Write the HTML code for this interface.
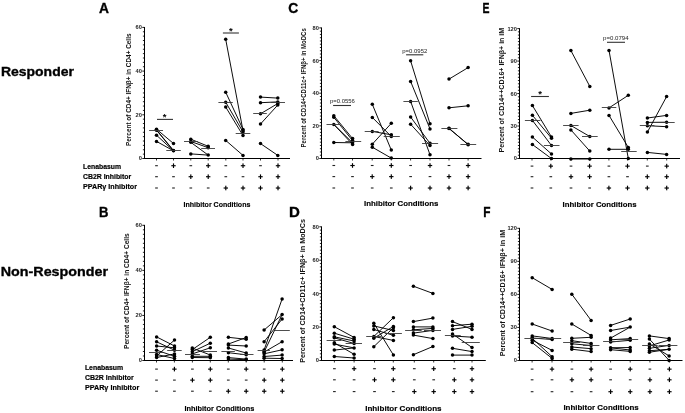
<!DOCTYPE html>
<html><head><meta charset="utf-8"><style>html,body{margin:0;padding:0;background:#fff;width:685px;height:413px;overflow:hidden;}body{position:relative;font-family:"Liberation Sans", sans-serif;}</style></head><body>
<svg width="685" height="413" viewBox="0 0 685 413" style="position:absolute;left:0;top:0;filter:grayscale(1)" font-family='&quot;Liberation Sans&quot;, sans-serif'>
<rect width="685" height="413" fill="#fff"/>
<text transform="translate(98.9,12.8) scale(0.92,1)" font-size="15" font-weight="bold" stroke="#000" stroke-width="0.35">A</text>
<text transform="translate(99,216.7) scale(0.87,1)" font-size="15" font-weight="bold" stroke="#000" stroke-width="0.35">B</text>
<text transform="translate(288.2,12.6) scale(0.92,1)" font-size="15" font-weight="bold" stroke="#000" stroke-width="0.35">C</text>
<text transform="translate(288.9,216.7) scale(1,1)" font-size="15" font-weight="bold" stroke="#000" stroke-width="0.35">D</text>
<text transform="translate(482.4,12.7) scale(0.7,1)" font-size="15" font-weight="bold" stroke="#000" stroke-width="0.35">E</text>
<text transform="translate(483.2,216.7) scale(0.79,1)" font-size="15" font-weight="bold" stroke="#000" stroke-width="0.35">F</text>
<text x="0.9" y="75.8" font-size="13.6" font-weight="bold" text-anchor="start" fill="#000" textLength="73" lengthAdjust="spacingAndGlyphs" stroke="#000" stroke-width="0.35">Responder</text>
<text x="0.8" y="276.4" font-size="13.6" font-weight="bold" text-anchor="start" fill="#000" textLength="107.2" lengthAdjust="spacingAndGlyphs" stroke="#000" stroke-width="0.35">Non-Responder</text>
<text x="83" y="169.3" font-size="8" font-weight="bold" text-anchor="start" fill="#000" textLength="38" lengthAdjust="spacingAndGlyphs" stroke="#000" stroke-width="0.2">Lenabasum</text>
<text x="83" y="179.1" font-size="8" font-weight="bold" text-anchor="start" fill="#000" textLength="48.2" lengthAdjust="spacingAndGlyphs" stroke="#000" stroke-width="0.2">CB2R Inhibitor</text>
<text x="83" y="189" font-size="8" font-weight="bold" text-anchor="start" fill="#000" textLength="54" lengthAdjust="spacingAndGlyphs" stroke="#000" stroke-width="0.2">PPARγ Inhibitor</text>
<text x="84.9" y="370.3" font-size="8" font-weight="bold" text-anchor="start" fill="#000" textLength="38.3" lengthAdjust="spacingAndGlyphs" stroke="#000" stroke-width="0.2">Lenabasum</text>
<text x="84.9" y="380.1" font-size="8" font-weight="bold" text-anchor="start" fill="#000" textLength="48.8" lengthAdjust="spacingAndGlyphs" stroke="#000" stroke-width="0.2">CB2R Inhibitor</text>
<text x="84.9" y="390" font-size="8" font-weight="bold" text-anchor="start" fill="#000" textLength="54.3" lengthAdjust="spacingAndGlyphs" stroke="#000" stroke-width="0.2">PPARγ Inhibitor</text>
<line x1="144.5" y1="27" x2="144.5" y2="159" stroke="#000" stroke-width="1"/>
<line x1="142.3" y1="158.5" x2="144.5" y2="158.5" stroke="#000" stroke-width="0.9"/>
<text x="141.9" y="160.45" font-size="5.7" font-weight="bold" text-anchor="end" fill="#222">0</text>
<line x1="142.3" y1="114.8" x2="144.5" y2="114.8" stroke="#000" stroke-width="0.9"/>
<text x="141.9" y="116.75" font-size="5.7" font-weight="bold" text-anchor="end" fill="#222">20</text>
<line x1="142.3" y1="71.1" x2="144.5" y2="71.1" stroke="#000" stroke-width="0.9"/>
<text x="141.9" y="73.05" font-size="5.7" font-weight="bold" text-anchor="end" fill="#222">40</text>
<line x1="142.3" y1="27.4" x2="144.5" y2="27.4" stroke="#000" stroke-width="0.9"/>
<text x="141.9" y="29.35" font-size="5.7" font-weight="bold" text-anchor="end" fill="#222">60</text>
<line x1="142.9" y1="154.13" x2="144.5" y2="154.13" stroke="#000" stroke-width="0.85"/>
<line x1="142.9" y1="149.76" x2="144.5" y2="149.76" stroke="#000" stroke-width="0.85"/>
<line x1="142.9" y1="145.39" x2="144.5" y2="145.39" stroke="#000" stroke-width="0.85"/>
<line x1="142.9" y1="141.02" x2="144.5" y2="141.02" stroke="#000" stroke-width="0.85"/>
<line x1="142.9" y1="136.65" x2="144.5" y2="136.65" stroke="#000" stroke-width="0.85"/>
<line x1="142.9" y1="132.28" x2="144.5" y2="132.28" stroke="#000" stroke-width="0.85"/>
<line x1="142.9" y1="127.91" x2="144.5" y2="127.91" stroke="#000" stroke-width="0.85"/>
<line x1="142.9" y1="123.54" x2="144.5" y2="123.54" stroke="#000" stroke-width="0.85"/>
<line x1="142.9" y1="119.17" x2="144.5" y2="119.17" stroke="#000" stroke-width="0.85"/>
<line x1="142.9" y1="110.43" x2="144.5" y2="110.43" stroke="#000" stroke-width="0.85"/>
<line x1="142.9" y1="106.06" x2="144.5" y2="106.06" stroke="#000" stroke-width="0.85"/>
<line x1="142.9" y1="101.69" x2="144.5" y2="101.69" stroke="#000" stroke-width="0.85"/>
<line x1="142.9" y1="97.32" x2="144.5" y2="97.32" stroke="#000" stroke-width="0.85"/>
<line x1="142.9" y1="92.95" x2="144.5" y2="92.95" stroke="#000" stroke-width="0.85"/>
<line x1="142.9" y1="88.58" x2="144.5" y2="88.58" stroke="#000" stroke-width="0.85"/>
<line x1="142.9" y1="84.21" x2="144.5" y2="84.21" stroke="#000" stroke-width="0.85"/>
<line x1="142.9" y1="79.84" x2="144.5" y2="79.84" stroke="#000" stroke-width="0.85"/>
<line x1="142.9" y1="75.47" x2="144.5" y2="75.47" stroke="#000" stroke-width="0.85"/>
<line x1="142.9" y1="66.73" x2="144.5" y2="66.73" stroke="#000" stroke-width="0.85"/>
<line x1="142.9" y1="62.36" x2="144.5" y2="62.36" stroke="#000" stroke-width="0.85"/>
<line x1="142.9" y1="57.99" x2="144.5" y2="57.99" stroke="#000" stroke-width="0.85"/>
<line x1="142.9" y1="53.62" x2="144.5" y2="53.62" stroke="#000" stroke-width="0.85"/>
<line x1="142.9" y1="49.25" x2="144.5" y2="49.25" stroke="#000" stroke-width="0.85"/>
<line x1="142.9" y1="44.88" x2="144.5" y2="44.88" stroke="#000" stroke-width="0.85"/>
<line x1="142.9" y1="40.51" x2="144.5" y2="40.51" stroke="#000" stroke-width="0.85"/>
<line x1="142.9" y1="36.14" x2="144.5" y2="36.14" stroke="#000" stroke-width="0.85"/>
<line x1="142.9" y1="31.77" x2="144.5" y2="31.77" stroke="#000" stroke-width="0.85"/>
<line x1="144" y1="158.5" x2="290" y2="158.5" stroke="#000" stroke-width="1"/>
<line x1="156.5" y1="158.5" x2="156.5" y2="160.5" stroke="#000" stroke-width="0.8"/>
<line x1="173.5" y1="158.5" x2="173.5" y2="160.5" stroke="#000" stroke-width="0.8"/>
<line x1="190.8" y1="158.5" x2="190.8" y2="160.5" stroke="#000" stroke-width="0.8"/>
<line x1="208.2" y1="158.5" x2="208.2" y2="160.5" stroke="#000" stroke-width="0.8"/>
<line x1="225.8" y1="158.5" x2="225.8" y2="160.5" stroke="#000" stroke-width="0.8"/>
<line x1="243" y1="158.5" x2="243" y2="160.5" stroke="#000" stroke-width="0.8"/>
<line x1="260.5" y1="158.5" x2="260.5" y2="160.5" stroke="#000" stroke-width="0.8"/>
<line x1="278" y1="158.5" x2="278" y2="160.5" stroke="#000" stroke-width="0.8"/>
<text transform="translate(130.7,89.75) rotate(-90)" x="0" y="0" font-size="7.6" font-weight="bold" text-anchor="middle" fill="#111" textLength="112.5" lengthAdjust="spacingAndGlyphs">Percent of CD4+ IFNβ+ in CD4+ Cells</text>
<rect x="155.15" y="165.15" width="2.7" height="1.1" fill="#222"/>
<rect x="171.3" y="165.15" width="4.4" height="1.15" fill="#000"/>
<rect x="172.93" y="163.4" width="1.15" height="4.6" fill="#000"/>
<rect x="189.45" y="165.15" width="2.7" height="1.1" fill="#222"/>
<rect x="206" y="165.15" width="4.4" height="1.15" fill="#000"/>
<rect x="207.63" y="163.4" width="1.15" height="4.6" fill="#000"/>
<rect x="224.45" y="165.15" width="2.7" height="1.1" fill="#222"/>
<rect x="240.8" y="165.15" width="4.4" height="1.15" fill="#000"/>
<rect x="242.43" y="163.4" width="1.15" height="4.6" fill="#000"/>
<rect x="259.15" y="165.15" width="2.7" height="1.1" fill="#222"/>
<rect x="275.8" y="165.15" width="4.4" height="1.15" fill="#000"/>
<rect x="277.43" y="163.4" width="1.15" height="4.6" fill="#000"/>
<rect x="155.15" y="176.15" width="2.7" height="1.1" fill="#222"/>
<rect x="172.15" y="176.15" width="2.7" height="1.1" fill="#222"/>
<rect x="188.6" y="176.15" width="4.4" height="1.15" fill="#000"/>
<rect x="190.23" y="174.4" width="1.15" height="4.6" fill="#000"/>
<rect x="206" y="176.15" width="4.4" height="1.15" fill="#000"/>
<rect x="207.63" y="174.4" width="1.15" height="4.6" fill="#000"/>
<rect x="224.45" y="176.15" width="2.7" height="1.1" fill="#222"/>
<rect x="241.65" y="176.15" width="2.7" height="1.1" fill="#222"/>
<rect x="258.3" y="176.15" width="4.4" height="1.15" fill="#000"/>
<rect x="259.93" y="174.4" width="1.15" height="4.6" fill="#000"/>
<rect x="275.8" y="176.15" width="4.4" height="1.15" fill="#000"/>
<rect x="277.43" y="174.4" width="1.15" height="4.6" fill="#000"/>
<rect x="155.15" y="187.45" width="2.7" height="1.1" fill="#222"/>
<rect x="172.15" y="187.45" width="2.7" height="1.1" fill="#222"/>
<rect x="189.45" y="187.45" width="2.7" height="1.1" fill="#222"/>
<rect x="206.85" y="187.45" width="2.7" height="1.1" fill="#222"/>
<rect x="223.6" y="187.45" width="4.4" height="1.15" fill="#000"/>
<rect x="225.23" y="185.7" width="1.15" height="4.6" fill="#000"/>
<rect x="240.8" y="187.45" width="4.4" height="1.15" fill="#000"/>
<rect x="242.43" y="185.7" width="1.15" height="4.6" fill="#000"/>
<rect x="258.3" y="187.45" width="4.4" height="1.15" fill="#000"/>
<rect x="259.93" y="185.7" width="1.15" height="4.6" fill="#000"/>
<rect x="275.8" y="187.45" width="4.4" height="1.15" fill="#000"/>
<rect x="277.43" y="185.7" width="1.15" height="4.6" fill="#000"/>
<text x="183.5" y="206.7" font-size="7.8" font-weight="bold" text-anchor="start" fill="#000" textLength="66.9" lengthAdjust="spacingAndGlyphs" stroke="#000" stroke-width="0.15">Inhibitor Conditions</text>
<line x1="156.5" y1="129.2" x2="173.5" y2="143.5" stroke="#000" stroke-width="0.95"/>
<line x1="156.5" y1="130.2" x2="173.5" y2="150.8" stroke="#000" stroke-width="0.95"/>
<line x1="156.5" y1="135.2" x2="173.5" y2="150.8" stroke="#000" stroke-width="0.95"/>
<line x1="156.5" y1="141.4" x2="173.5" y2="150.8" stroke="#000" stroke-width="0.95"/>
<line x1="156.5" y1="129.8" x2="173.5" y2="150.5" stroke="#000" stroke-width="0.95"/>
<circle cx="156.5" cy="130.2" r="1.75"/>
<circle cx="156.5" cy="129.2" r="1.75"/>
<circle cx="156.5" cy="135.2" r="1.75"/>
<circle cx="173.5" cy="150.5" r="1.75"/>
<circle cx="173.5" cy="143.5" r="1.75"/>
<circle cx="173.5" cy="150.8" r="1.75"/>
<circle cx="156.5" cy="129.8" r="1.75"/>
<circle cx="156.5" cy="141.4" r="1.75"/>
<line x1="149.1" y1="130.5" x2="163" y2="130.5" stroke="#3a3a3a" stroke-width="0.9"/>
<line x1="166.3" y1="150.5" x2="180.8" y2="150.5" stroke="#3a3a3a" stroke-width="0.9"/>
<line x1="190.8" y1="139.2" x2="208.2" y2="146.3" stroke="#000" stroke-width="0.95"/>
<line x1="190.8" y1="141.5" x2="208.2" y2="147.7" stroke="#000" stroke-width="0.95"/>
<line x1="190.8" y1="142.3" x2="208.2" y2="155.1" stroke="#000" stroke-width="0.95"/>
<line x1="190.8" y1="153.9" x2="208.2" y2="155.1" stroke="#000" stroke-width="0.95"/>
<circle cx="208.2" cy="147.7" r="1.75"/>
<circle cx="190.8" cy="139.2" r="1.75"/>
<circle cx="190.8" cy="142.3" r="1.75"/>
<circle cx="190.8" cy="141.5" r="1.75"/>
<circle cx="208.2" cy="146.3" r="1.75"/>
<circle cx="208.2" cy="155.1" r="1.75"/>
<circle cx="190.8" cy="153.9" r="1.75"/>
<line x1="184" y1="141.5" x2="197.9" y2="141.5" stroke="#3a3a3a" stroke-width="0.9"/>
<line x1="201.2" y1="148.5" x2="215" y2="148.5" stroke="#3a3a3a" stroke-width="0.9"/>
<line x1="225.7" y1="39.3" x2="243" y2="130.7" stroke="#000" stroke-width="0.95"/>
<line x1="225.7" y1="92.2" x2="243" y2="129.4" stroke="#000" stroke-width="0.95"/>
<line x1="225.7" y1="102.2" x2="243" y2="132" stroke="#000" stroke-width="0.95"/>
<line x1="225.7" y1="107" x2="243" y2="135.5" stroke="#000" stroke-width="0.95"/>
<line x1="225.7" y1="140.4" x2="243" y2="155.4" stroke="#000" stroke-width="0.95"/>
<circle cx="243" cy="135.5" r="1.75"/>
<circle cx="225.7" cy="107" r="1.75"/>
<circle cx="225.7" cy="102.2" r="1.75"/>
<circle cx="243" cy="130.7" r="1.75"/>
<circle cx="225.7" cy="92.2" r="1.75"/>
<circle cx="243" cy="132" r="1.75"/>
<circle cx="243" cy="155.4" r="1.75"/>
<circle cx="225.7" cy="140.4" r="1.75"/>
<circle cx="225.7" cy="39.3" r="1.75"/>
<circle cx="243" cy="129.4" r="1.75"/>
<line x1="218.4" y1="102.5" x2="232.8" y2="102.5" stroke="#3a3a3a" stroke-width="0.9"/>
<line x1="235.7" y1="133.5" x2="250.3" y2="133.5" stroke="#3a3a3a" stroke-width="0.9"/>
<line x1="260.5" y1="97.1" x2="277.8" y2="98.1" stroke="#000" stroke-width="0.95"/>
<line x1="260.5" y1="102.7" x2="277.8" y2="101.9" stroke="#000" stroke-width="0.95"/>
<line x1="260.5" y1="113.8" x2="277.8" y2="103.5" stroke="#000" stroke-width="0.95"/>
<line x1="260.5" y1="124" x2="277.8" y2="105" stroke="#000" stroke-width="0.95"/>
<line x1="260.5" y1="143.6" x2="277.8" y2="155.4" stroke="#000" stroke-width="0.95"/>
<circle cx="260.5" cy="143.6" r="1.75"/>
<circle cx="260.5" cy="97.1" r="1.75"/>
<circle cx="277.8" cy="105" r="1.75"/>
<circle cx="260.5" cy="102.7" r="1.75"/>
<circle cx="277.8" cy="98.1" r="1.75"/>
<circle cx="277.8" cy="101.9" r="1.75"/>
<circle cx="260.5" cy="113.8" r="1.75"/>
<circle cx="260.5" cy="124" r="1.75"/>
<circle cx="277.8" cy="155.4" r="1.75"/>
<circle cx="277.8" cy="103.5" r="1.75"/>
<line x1="253.2" y1="113.5" x2="266.8" y2="113.5" stroke="#3a3a3a" stroke-width="0.9"/>
<line x1="271" y1="102.5" x2="285" y2="102.5" stroke="#3a3a3a" stroke-width="0.9"/>
<line x1="157" y1="119.4" x2="173" y2="119.4" stroke="#333" stroke-width="1.1"/>
<text x="164.6" y="120.4" font-size="9.5" font-weight="bold" text-anchor="middle" fill="#000">*</text>
<line x1="222.9" y1="33" x2="238.9" y2="33" stroke="#333" stroke-width="1.1"/>
<text x="230.9" y="34" font-size="9.5" font-weight="bold" text-anchor="middle" fill="#000">*</text>
<line x1="144.5" y1="224.9" x2="144.5" y2="361" stroke="#000" stroke-width="1"/>
<line x1="142.3" y1="360.5" x2="144.5" y2="360.5" stroke="#000" stroke-width="0.9"/>
<text x="141.9" y="362.45" font-size="5.7" font-weight="bold" text-anchor="end" fill="#222">0</text>
<line x1="142.3" y1="315.43" x2="144.5" y2="315.43" stroke="#000" stroke-width="0.9"/>
<text x="141.9" y="317.38" font-size="5.7" font-weight="bold" text-anchor="end" fill="#222">20</text>
<line x1="142.3" y1="270.37" x2="144.5" y2="270.37" stroke="#000" stroke-width="0.9"/>
<text x="141.9" y="272.32" font-size="5.7" font-weight="bold" text-anchor="end" fill="#222">40</text>
<line x1="142.3" y1="225.3" x2="144.5" y2="225.3" stroke="#000" stroke-width="0.9"/>
<text x="141.9" y="227.25" font-size="5.7" font-weight="bold" text-anchor="end" fill="#222">60</text>
<line x1="142.9" y1="355.99" x2="144.5" y2="355.99" stroke="#000" stroke-width="0.85"/>
<line x1="142.9" y1="351.49" x2="144.5" y2="351.49" stroke="#000" stroke-width="0.85"/>
<line x1="142.9" y1="346.98" x2="144.5" y2="346.98" stroke="#000" stroke-width="0.85"/>
<line x1="142.9" y1="342.47" x2="144.5" y2="342.47" stroke="#000" stroke-width="0.85"/>
<line x1="142.9" y1="337.97" x2="144.5" y2="337.97" stroke="#000" stroke-width="0.85"/>
<line x1="142.9" y1="333.46" x2="144.5" y2="333.46" stroke="#000" stroke-width="0.85"/>
<line x1="142.9" y1="328.95" x2="144.5" y2="328.95" stroke="#000" stroke-width="0.85"/>
<line x1="142.9" y1="324.45" x2="144.5" y2="324.45" stroke="#000" stroke-width="0.85"/>
<line x1="142.9" y1="319.94" x2="144.5" y2="319.94" stroke="#000" stroke-width="0.85"/>
<line x1="142.9" y1="310.93" x2="144.5" y2="310.93" stroke="#000" stroke-width="0.85"/>
<line x1="142.9" y1="306.42" x2="144.5" y2="306.42" stroke="#000" stroke-width="0.85"/>
<line x1="142.9" y1="301.91" x2="144.5" y2="301.91" stroke="#000" stroke-width="0.85"/>
<line x1="142.9" y1="297.41" x2="144.5" y2="297.41" stroke="#000" stroke-width="0.85"/>
<line x1="142.9" y1="292.9" x2="144.5" y2="292.9" stroke="#000" stroke-width="0.85"/>
<line x1="142.9" y1="288.39" x2="144.5" y2="288.39" stroke="#000" stroke-width="0.85"/>
<line x1="142.9" y1="283.89" x2="144.5" y2="283.89" stroke="#000" stroke-width="0.85"/>
<line x1="142.9" y1="279.38" x2="144.5" y2="279.38" stroke="#000" stroke-width="0.85"/>
<line x1="142.9" y1="274.87" x2="144.5" y2="274.87" stroke="#000" stroke-width="0.85"/>
<line x1="142.9" y1="265.86" x2="144.5" y2="265.86" stroke="#000" stroke-width="0.85"/>
<line x1="142.9" y1="261.35" x2="144.5" y2="261.35" stroke="#000" stroke-width="0.85"/>
<line x1="142.9" y1="256.85" x2="144.5" y2="256.85" stroke="#000" stroke-width="0.85"/>
<line x1="142.9" y1="252.34" x2="144.5" y2="252.34" stroke="#000" stroke-width="0.85"/>
<line x1="142.9" y1="247.83" x2="144.5" y2="247.83" stroke="#000" stroke-width="0.85"/>
<line x1="142.9" y1="243.33" x2="144.5" y2="243.33" stroke="#000" stroke-width="0.85"/>
<line x1="142.9" y1="238.82" x2="144.5" y2="238.82" stroke="#000" stroke-width="0.85"/>
<line x1="142.9" y1="234.31" x2="144.5" y2="234.31" stroke="#000" stroke-width="0.85"/>
<line x1="142.9" y1="229.81" x2="144.5" y2="229.81" stroke="#000" stroke-width="0.85"/>
<line x1="144" y1="360.5" x2="293" y2="360.5" stroke="#000" stroke-width="1"/>
<line x1="156.5" y1="360.5" x2="156.5" y2="362.5" stroke="#000" stroke-width="0.8"/>
<line x1="174.4" y1="360.5" x2="174.4" y2="362.5" stroke="#000" stroke-width="0.8"/>
<line x1="192.4" y1="360.5" x2="192.4" y2="362.5" stroke="#000" stroke-width="0.8"/>
<line x1="210.3" y1="360.5" x2="210.3" y2="362.5" stroke="#000" stroke-width="0.8"/>
<line x1="228.3" y1="360.5" x2="228.3" y2="362.5" stroke="#000" stroke-width="0.8"/>
<line x1="246.2" y1="360.5" x2="246.2" y2="362.5" stroke="#000" stroke-width="0.8"/>
<line x1="264.2" y1="360.5" x2="264.2" y2="362.5" stroke="#000" stroke-width="0.8"/>
<line x1="282.3" y1="360.5" x2="282.3" y2="362.5" stroke="#000" stroke-width="0.8"/>
<text transform="translate(129.2,291.15) rotate(-90)" x="0" y="0" font-size="7.6" font-weight="bold" text-anchor="middle" fill="#111" textLength="115.7" lengthAdjust="spacingAndGlyphs">Percent of CD4+ IFNβ+ in CD4+ Cells</text>
<rect x="155.15" y="368.55" width="2.7" height="1.1" fill="#222"/>
<rect x="172.2" y="368.55" width="4.4" height="1.15" fill="#000"/>
<rect x="173.83" y="366.8" width="1.15" height="4.6" fill="#000"/>
<rect x="191.05" y="368.55" width="2.7" height="1.1" fill="#222"/>
<rect x="208.1" y="368.55" width="4.4" height="1.15" fill="#000"/>
<rect x="209.73" y="366.8" width="1.15" height="4.6" fill="#000"/>
<rect x="226.95" y="368.55" width="2.7" height="1.1" fill="#222"/>
<rect x="244" y="368.55" width="4.4" height="1.15" fill="#000"/>
<rect x="245.63" y="366.8" width="1.15" height="4.6" fill="#000"/>
<rect x="262.85" y="368.55" width="2.7" height="1.1" fill="#222"/>
<rect x="280.1" y="368.55" width="4.4" height="1.15" fill="#000"/>
<rect x="281.73" y="366.8" width="1.15" height="4.6" fill="#000"/>
<rect x="155.15" y="379.55" width="2.7" height="1.1" fill="#222"/>
<rect x="173.05" y="379.55" width="2.7" height="1.1" fill="#222"/>
<rect x="190.2" y="379.55" width="4.4" height="1.15" fill="#000"/>
<rect x="191.83" y="377.8" width="1.15" height="4.6" fill="#000"/>
<rect x="208.1" y="379.55" width="4.4" height="1.15" fill="#000"/>
<rect x="209.73" y="377.8" width="1.15" height="4.6" fill="#000"/>
<rect x="226.95" y="379.55" width="2.7" height="1.1" fill="#222"/>
<rect x="244.85" y="379.55" width="2.7" height="1.1" fill="#222"/>
<rect x="262" y="379.55" width="4.4" height="1.15" fill="#000"/>
<rect x="263.63" y="377.8" width="1.15" height="4.6" fill="#000"/>
<rect x="280.1" y="379.55" width="4.4" height="1.15" fill="#000"/>
<rect x="281.73" y="377.8" width="1.15" height="4.6" fill="#000"/>
<rect x="155.15" y="390.65" width="2.7" height="1.1" fill="#222"/>
<rect x="173.05" y="390.65" width="2.7" height="1.1" fill="#222"/>
<rect x="191.05" y="390.65" width="2.7" height="1.1" fill="#222"/>
<rect x="208.95" y="390.65" width="2.7" height="1.1" fill="#222"/>
<rect x="226.1" y="390.65" width="4.4" height="1.15" fill="#000"/>
<rect x="227.73" y="388.9" width="1.15" height="4.6" fill="#000"/>
<rect x="244" y="390.65" width="4.4" height="1.15" fill="#000"/>
<rect x="245.63" y="388.9" width="1.15" height="4.6" fill="#000"/>
<rect x="262" y="390.65" width="4.4" height="1.15" fill="#000"/>
<rect x="263.63" y="388.9" width="1.15" height="4.6" fill="#000"/>
<rect x="280.1" y="390.65" width="4.4" height="1.15" fill="#000"/>
<rect x="281.73" y="388.9" width="1.15" height="4.6" fill="#000"/>
<text x="184.5" y="410.8" font-size="7.8" font-weight="bold" text-anchor="start" fill="#000" textLength="69.9" lengthAdjust="spacingAndGlyphs" stroke="#000" stroke-width="0.15">Inhibitor Conditions</text>
<line x1="156.6" y1="336.9" x2="174.5" y2="346" stroke="#000" stroke-width="0.95"/>
<line x1="156.6" y1="341.8" x2="174.5" y2="350.2" stroke="#000" stroke-width="0.95"/>
<line x1="156.6" y1="346" x2="174.5" y2="347.8" stroke="#000" stroke-width="0.95"/>
<line x1="156.6" y1="350.2" x2="174.5" y2="356.3" stroke="#000" stroke-width="0.95"/>
<line x1="156.6" y1="354.5" x2="174.5" y2="358.5" stroke="#000" stroke-width="0.95"/>
<line x1="156.6" y1="356" x2="174.5" y2="340" stroke="#000" stroke-width="0.95"/>
<line x1="156.6" y1="357.5" x2="174.5" y2="353.9" stroke="#000" stroke-width="0.95"/>
<circle cx="174.5" cy="353.9" r="1.75"/>
<circle cx="174.5" cy="350.2" r="1.75"/>
<circle cx="174.5" cy="340" r="1.75"/>
<circle cx="174.5" cy="347.8" r="1.75"/>
<circle cx="156.6" cy="354.5" r="1.75"/>
<circle cx="156.6" cy="357.5" r="1.75"/>
<circle cx="174.5" cy="356.3" r="1.75"/>
<circle cx="156.6" cy="341.8" r="1.75"/>
<circle cx="174.5" cy="346" r="1.75"/>
<circle cx="156.6" cy="350.2" r="1.75"/>
<circle cx="156.6" cy="336.9" r="1.75"/>
<circle cx="174.5" cy="358.5" r="1.75"/>
<circle cx="156.6" cy="356" r="1.75"/>
<circle cx="156.6" cy="346" r="1.75"/>
<line x1="149" y1="352.5" x2="163.6" y2="352.5" stroke="#3a3a3a" stroke-width="0.9"/>
<line x1="167.2" y1="350.5" x2="181.7" y2="350.5" stroke="#3a3a3a" stroke-width="0.9"/>
<line x1="192.3" y1="348" x2="210.3" y2="355" stroke="#000" stroke-width="0.95"/>
<line x1="192.3" y1="349.6" x2="210.3" y2="337.3" stroke="#000" stroke-width="0.95"/>
<line x1="192.3" y1="351.7" x2="210.3" y2="343.2" stroke="#000" stroke-width="0.95"/>
<line x1="192.3" y1="353.9" x2="210.3" y2="347.8" stroke="#000" stroke-width="0.95"/>
<line x1="192.3" y1="356.3" x2="210.3" y2="356.3" stroke="#000" stroke-width="0.95"/>
<line x1="192.3" y1="357.5" x2="210.3" y2="357.7" stroke="#000" stroke-width="0.95"/>
<circle cx="192.3" cy="349.6" r="1.75"/>
<circle cx="192.3" cy="351.7" r="1.75"/>
<circle cx="192.3" cy="348" r="1.75"/>
<circle cx="210.3" cy="347.8" r="1.75"/>
<circle cx="210.3" cy="343.2" r="1.75"/>
<circle cx="210.3" cy="337.3" r="1.75"/>
<circle cx="192.3" cy="357.5" r="1.75"/>
<circle cx="192.3" cy="353.9" r="1.75"/>
<circle cx="210.3" cy="356.3" r="1.75"/>
<circle cx="210.3" cy="355" r="1.75"/>
<circle cx="192.3" cy="356.3" r="1.75"/>
<circle cx="210.3" cy="357.7" r="1.75"/>
<line x1="185" y1="354.5" x2="199.9" y2="354.5" stroke="#3a3a3a" stroke-width="0.9"/>
<line x1="202.9" y1="351.5" x2="217" y2="351.5" stroke="#3a3a3a" stroke-width="0.9"/>
<line x1="228.4" y1="337.3" x2="246.2" y2="339.3" stroke="#000" stroke-width="0.95"/>
<line x1="228.4" y1="344" x2="246.2" y2="337.5" stroke="#000" stroke-width="0.95"/>
<line x1="228.4" y1="345.1" x2="246.2" y2="346" stroke="#000" stroke-width="0.95"/>
<line x1="228.4" y1="348" x2="246.2" y2="353" stroke="#000" stroke-width="0.95"/>
<line x1="228.4" y1="352.7" x2="246.2" y2="354.8" stroke="#000" stroke-width="0.95"/>
<line x1="228.4" y1="357.6" x2="246.2" y2="359.1" stroke="#000" stroke-width="0.95"/>
<line x1="228.4" y1="359.1" x2="246.2" y2="359.7" stroke="#000" stroke-width="0.95"/>
<circle cx="228.4" cy="359.1" r="1.75"/>
<circle cx="246.2" cy="337.5" r="1.75"/>
<circle cx="246.2" cy="354.8" r="1.75"/>
<circle cx="228.4" cy="348" r="1.75"/>
<circle cx="246.2" cy="353" r="1.75"/>
<circle cx="246.2" cy="359.7" r="1.75"/>
<circle cx="228.4" cy="345.1" r="1.75"/>
<circle cx="246.2" cy="346" r="1.75"/>
<circle cx="228.4" cy="344" r="1.75"/>
<circle cx="246.2" cy="359.1" r="1.75"/>
<circle cx="246.2" cy="339.3" r="1.75"/>
<circle cx="228.4" cy="357.6" r="1.75"/>
<circle cx="228.4" cy="337.3" r="1.75"/>
<circle cx="228.4" cy="352.7" r="1.75"/>
<line x1="221.4" y1="351.5" x2="234.9" y2="351.5" stroke="#3a3a3a" stroke-width="0.9"/>
<line x1="240.1" y1="354.5" x2="253.5" y2="354.5" stroke="#3a3a3a" stroke-width="0.9"/>
<line x1="264.1" y1="330" x2="282.1" y2="314.6" stroke="#000" stroke-width="0.95"/>
<line x1="264.1" y1="341.7" x2="282.1" y2="319" stroke="#000" stroke-width="0.95"/>
<line x1="264.1" y1="350" x2="282.1" y2="299" stroke="#000" stroke-width="0.95"/>
<line x1="264.1" y1="352" x2="282.1" y2="314.6" stroke="#000" stroke-width="0.95"/>
<line x1="264.1" y1="352.1" x2="282.1" y2="341.7" stroke="#000" stroke-width="0.95"/>
<line x1="264.1" y1="353.8" x2="282.1" y2="349.8" stroke="#000" stroke-width="0.95"/>
<line x1="264.1" y1="356.5" x2="282.1" y2="355.1" stroke="#000" stroke-width="0.95"/>
<line x1="264.1" y1="358.2" x2="282.1" y2="358.5" stroke="#000" stroke-width="0.95"/>
<circle cx="264.1" cy="358.2" r="1.75"/>
<circle cx="282.1" cy="355.1" r="1.75"/>
<circle cx="264.1" cy="341.7" r="1.75"/>
<circle cx="264.1" cy="352.1" r="1.75"/>
<circle cx="264.1" cy="353.8" r="1.75"/>
<circle cx="264.1" cy="350" r="1.75"/>
<circle cx="282.1" cy="314.6" r="1.75"/>
<circle cx="282.1" cy="349.8" r="1.75"/>
<circle cx="282.1" cy="358.5" r="1.75"/>
<circle cx="264.1" cy="330" r="1.75"/>
<circle cx="282.1" cy="341.7" r="1.75"/>
<circle cx="282.1" cy="319" r="1.75"/>
<circle cx="264.1" cy="356.5" r="1.75"/>
<circle cx="282.1" cy="299" r="1.75"/>
<circle cx="264.1" cy="352" r="1.75"/>
<line x1="257.6" y1="350.5" x2="269.9" y2="350.5" stroke="#3a3a3a" stroke-width="0.9"/>
<line x1="274.6" y1="330.5" x2="289.8" y2="330.5" stroke="#3a3a3a" stroke-width="0.9"/>
<line x1="321.5" y1="27.5" x2="321.5" y2="159" stroke="#000" stroke-width="1"/>
<line x1="319.3" y1="158.5" x2="321.5" y2="158.5" stroke="#000" stroke-width="0.9"/>
<text x="318.9" y="160.45" font-size="5.7" font-weight="bold" text-anchor="end" fill="#222">0</text>
<line x1="319.3" y1="125.85" x2="321.5" y2="125.85" stroke="#000" stroke-width="0.9"/>
<text x="318.9" y="127.8" font-size="5.7" font-weight="bold" text-anchor="end" fill="#222">20</text>
<line x1="319.3" y1="93.2" x2="321.5" y2="93.2" stroke="#000" stroke-width="0.9"/>
<text x="318.9" y="95.15" font-size="5.7" font-weight="bold" text-anchor="end" fill="#222">40</text>
<line x1="319.3" y1="60.55" x2="321.5" y2="60.55" stroke="#000" stroke-width="0.9"/>
<text x="318.9" y="62.5" font-size="5.7" font-weight="bold" text-anchor="end" fill="#222">60</text>
<line x1="319.3" y1="27.9" x2="321.5" y2="27.9" stroke="#000" stroke-width="0.9"/>
<text x="318.9" y="29.85" font-size="5.7" font-weight="bold" text-anchor="end" fill="#222">80</text>
<line x1="319.9" y1="155.24" x2="321.5" y2="155.24" stroke="#000" stroke-width="0.85"/>
<line x1="319.9" y1="151.97" x2="321.5" y2="151.97" stroke="#000" stroke-width="0.85"/>
<line x1="319.9" y1="148.71" x2="321.5" y2="148.71" stroke="#000" stroke-width="0.85"/>
<line x1="319.9" y1="145.44" x2="321.5" y2="145.44" stroke="#000" stroke-width="0.85"/>
<line x1="319.9" y1="142.18" x2="321.5" y2="142.18" stroke="#000" stroke-width="0.85"/>
<line x1="319.9" y1="138.91" x2="321.5" y2="138.91" stroke="#000" stroke-width="0.85"/>
<line x1="319.9" y1="135.65" x2="321.5" y2="135.65" stroke="#000" stroke-width="0.85"/>
<line x1="319.9" y1="132.38" x2="321.5" y2="132.38" stroke="#000" stroke-width="0.85"/>
<line x1="319.9" y1="129.12" x2="321.5" y2="129.12" stroke="#000" stroke-width="0.85"/>
<line x1="319.9" y1="122.59" x2="321.5" y2="122.59" stroke="#000" stroke-width="0.85"/>
<line x1="319.9" y1="119.32" x2="321.5" y2="119.32" stroke="#000" stroke-width="0.85"/>
<line x1="319.9" y1="116.06" x2="321.5" y2="116.06" stroke="#000" stroke-width="0.85"/>
<line x1="319.9" y1="112.79" x2="321.5" y2="112.79" stroke="#000" stroke-width="0.85"/>
<line x1="319.9" y1="109.53" x2="321.5" y2="109.53" stroke="#000" stroke-width="0.85"/>
<line x1="319.9" y1="106.26" x2="321.5" y2="106.26" stroke="#000" stroke-width="0.85"/>
<line x1="319.9" y1="103" x2="321.5" y2="103" stroke="#000" stroke-width="0.85"/>
<line x1="319.9" y1="99.73" x2="321.5" y2="99.73" stroke="#000" stroke-width="0.85"/>
<line x1="319.9" y1="96.47" x2="321.5" y2="96.47" stroke="#000" stroke-width="0.85"/>
<line x1="319.9" y1="89.94" x2="321.5" y2="89.94" stroke="#000" stroke-width="0.85"/>
<line x1="319.9" y1="86.67" x2="321.5" y2="86.67" stroke="#000" stroke-width="0.85"/>
<line x1="319.9" y1="83.41" x2="321.5" y2="83.41" stroke="#000" stroke-width="0.85"/>
<line x1="319.9" y1="80.14" x2="321.5" y2="80.14" stroke="#000" stroke-width="0.85"/>
<line x1="319.9" y1="76.88" x2="321.5" y2="76.88" stroke="#000" stroke-width="0.85"/>
<line x1="319.9" y1="73.61" x2="321.5" y2="73.61" stroke="#000" stroke-width="0.85"/>
<line x1="319.9" y1="70.35" x2="321.5" y2="70.35" stroke="#000" stroke-width="0.85"/>
<line x1="319.9" y1="67.08" x2="321.5" y2="67.08" stroke="#000" stroke-width="0.85"/>
<line x1="319.9" y1="63.82" x2="321.5" y2="63.82" stroke="#000" stroke-width="0.85"/>
<line x1="319.9" y1="57.29" x2="321.5" y2="57.29" stroke="#000" stroke-width="0.85"/>
<line x1="319.9" y1="54.02" x2="321.5" y2="54.02" stroke="#000" stroke-width="0.85"/>
<line x1="319.9" y1="50.76" x2="321.5" y2="50.76" stroke="#000" stroke-width="0.85"/>
<line x1="319.9" y1="47.49" x2="321.5" y2="47.49" stroke="#000" stroke-width="0.85"/>
<line x1="319.9" y1="44.23" x2="321.5" y2="44.23" stroke="#000" stroke-width="0.85"/>
<line x1="319.9" y1="40.96" x2="321.5" y2="40.96" stroke="#000" stroke-width="0.85"/>
<line x1="319.9" y1="37.7" x2="321.5" y2="37.7" stroke="#000" stroke-width="0.85"/>
<line x1="319.9" y1="34.43" x2="321.5" y2="34.43" stroke="#000" stroke-width="0.85"/>
<line x1="319.9" y1="31.17" x2="321.5" y2="31.17" stroke="#000" stroke-width="0.85"/>
<line x1="321" y1="158.5" x2="481.5" y2="158.5" stroke="#000" stroke-width="1"/>
<line x1="333.8" y1="158.5" x2="333.8" y2="160.5" stroke="#000" stroke-width="0.8"/>
<line x1="352.5" y1="158.5" x2="352.5" y2="160.5" stroke="#000" stroke-width="0.8"/>
<line x1="372.2" y1="158.5" x2="372.2" y2="160.5" stroke="#000" stroke-width="0.8"/>
<line x1="391.3" y1="158.5" x2="391.3" y2="160.5" stroke="#000" stroke-width="0.8"/>
<line x1="410.6" y1="158.5" x2="410.6" y2="160.5" stroke="#000" stroke-width="0.8"/>
<line x1="430" y1="158.5" x2="430" y2="160.5" stroke="#000" stroke-width="0.8"/>
<line x1="449" y1="158.5" x2="449" y2="160.5" stroke="#000" stroke-width="0.8"/>
<line x1="468.1" y1="158.5" x2="468.1" y2="160.5" stroke="#000" stroke-width="0.8"/>
<text transform="translate(305.7,87.85) rotate(-90)" x="0" y="0" font-size="7" font-weight="bold" text-anchor="middle" fill="#111" textLength="119.1" lengthAdjust="spacingAndGlyphs">Percent of CD14+CD11c+ IFNβ+ in MoDCs</text>
<rect x="332.45" y="164.95" width="2.7" height="1.1" fill="#222"/>
<rect x="350.3" y="164.95" width="4.4" height="1.15" fill="#000"/>
<rect x="351.93" y="163.2" width="1.15" height="4.6" fill="#000"/>
<rect x="370.85" y="164.95" width="2.7" height="1.1" fill="#222"/>
<rect x="389.1" y="164.95" width="4.4" height="1.15" fill="#000"/>
<rect x="390.73" y="163.2" width="1.15" height="4.6" fill="#000"/>
<rect x="409.25" y="164.95" width="2.7" height="1.1" fill="#222"/>
<rect x="427.8" y="164.95" width="4.4" height="1.15" fill="#000"/>
<rect x="429.43" y="163.2" width="1.15" height="4.6" fill="#000"/>
<rect x="447.65" y="164.95" width="2.7" height="1.1" fill="#222"/>
<rect x="465.9" y="164.95" width="4.4" height="1.15" fill="#000"/>
<rect x="467.53" y="163.2" width="1.15" height="4.6" fill="#000"/>
<rect x="332.45" y="176.05" width="2.7" height="1.1" fill="#222"/>
<rect x="351.15" y="176.05" width="2.7" height="1.1" fill="#222"/>
<rect x="370" y="176.05" width="4.4" height="1.15" fill="#000"/>
<rect x="371.63" y="174.3" width="1.15" height="4.6" fill="#000"/>
<rect x="389.1" y="176.05" width="4.4" height="1.15" fill="#000"/>
<rect x="390.73" y="174.3" width="1.15" height="4.6" fill="#000"/>
<rect x="409.25" y="176.05" width="2.7" height="1.1" fill="#222"/>
<rect x="428.65" y="176.05" width="2.7" height="1.1" fill="#222"/>
<rect x="446.8" y="176.05" width="4.4" height="1.15" fill="#000"/>
<rect x="448.43" y="174.3" width="1.15" height="4.6" fill="#000"/>
<rect x="465.9" y="176.05" width="4.4" height="1.15" fill="#000"/>
<rect x="467.53" y="174.3" width="1.15" height="4.6" fill="#000"/>
<rect x="332.45" y="187.45" width="2.7" height="1.1" fill="#222"/>
<rect x="351.15" y="187.45" width="2.7" height="1.1" fill="#222"/>
<rect x="370.85" y="187.45" width="2.7" height="1.1" fill="#222"/>
<rect x="389.95" y="187.45" width="2.7" height="1.1" fill="#222"/>
<rect x="408.4" y="187.45" width="4.4" height="1.15" fill="#000"/>
<rect x="410.03" y="185.7" width="1.15" height="4.6" fill="#000"/>
<rect x="427.8" y="187.45" width="4.4" height="1.15" fill="#000"/>
<rect x="429.43" y="185.7" width="1.15" height="4.6" fill="#000"/>
<rect x="446.8" y="187.45" width="4.4" height="1.15" fill="#000"/>
<rect x="448.43" y="185.7" width="1.15" height="4.6" fill="#000"/>
<rect x="465.9" y="187.45" width="4.4" height="1.15" fill="#000"/>
<rect x="467.53" y="185.7" width="1.15" height="4.6" fill="#000"/>
<text x="364" y="206.3" font-size="7.8" font-weight="bold" text-anchor="start" fill="#000" textLength="74.4" lengthAdjust="spacingAndGlyphs" stroke="#000" stroke-width="0.15">Inhibitor Conditions</text>
<line x1="333.8" y1="115.7" x2="352.6" y2="138.6" stroke="#000" stroke-width="0.95"/>
<line x1="333.8" y1="117.3" x2="352.6" y2="140.6" stroke="#000" stroke-width="0.95"/>
<line x1="333.8" y1="124.4" x2="352.6" y2="142.8" stroke="#000" stroke-width="0.95"/>
<line x1="333.8" y1="124.4" x2="352.6" y2="144.4" stroke="#000" stroke-width="0.95"/>
<line x1="333.8" y1="142.5" x2="352.6" y2="142.8" stroke="#000" stroke-width="0.95"/>
<circle cx="352.6" cy="138.6" r="1.75"/>
<circle cx="333.8" cy="115.7" r="1.75"/>
<circle cx="333.8" cy="142.5" r="1.75"/>
<circle cx="352.6" cy="144.4" r="1.75"/>
<circle cx="352.6" cy="140.6" r="1.75"/>
<circle cx="333.8" cy="117.3" r="1.75"/>
<circle cx="352.6" cy="142.8" r="1.75"/>
<circle cx="333.8" cy="124.4" r="1.75"/>
<line x1="326.5" y1="124.5" x2="339.9" y2="124.5" stroke="#3a3a3a" stroke-width="0.9"/>
<line x1="345.4" y1="141.5" x2="361.2" y2="141.5" stroke="#3a3a3a" stroke-width="0.9"/>
<line x1="372.3" y1="104.3" x2="391.3" y2="150.1" stroke="#000" stroke-width="0.95"/>
<line x1="372.3" y1="117.4" x2="391.3" y2="136.5" stroke="#000" stroke-width="0.95"/>
<line x1="372.3" y1="131.4" x2="391.3" y2="134.8" stroke="#000" stroke-width="0.95"/>
<line x1="372.3" y1="144.2" x2="391.3" y2="123.3" stroke="#000" stroke-width="0.95"/>
<line x1="372.3" y1="147.2" x2="391.3" y2="158.1" stroke="#000" stroke-width="0.95"/>
<circle cx="372.3" cy="117.4" r="1.75"/>
<circle cx="391.3" cy="123.3" r="1.75"/>
<circle cx="391.3" cy="150.1" r="1.75"/>
<circle cx="391.3" cy="134.8" r="1.75"/>
<circle cx="372.3" cy="104.3" r="1.75"/>
<circle cx="372.3" cy="147.2" r="1.75"/>
<circle cx="391.3" cy="136.5" r="1.75"/>
<circle cx="372.3" cy="144.2" r="1.75"/>
<circle cx="372.3" cy="131.4" r="1.75"/>
<circle cx="391.3" cy="158.1" r="1.75"/>
<line x1="364.7" y1="131.5" x2="378.6" y2="131.5" stroke="#3a3a3a" stroke-width="0.9"/>
<line x1="383.7" y1="136.5" x2="399.8" y2="136.5" stroke="#3a3a3a" stroke-width="0.9"/>
<line x1="410.6" y1="60.8" x2="430" y2="123.8" stroke="#000" stroke-width="0.95"/>
<line x1="410.6" y1="81.4" x2="430" y2="128.9" stroke="#000" stroke-width="0.95"/>
<line x1="410.6" y1="101.4" x2="430" y2="154.7" stroke="#000" stroke-width="0.95"/>
<line x1="410.6" y1="117" x2="430" y2="143.3" stroke="#000" stroke-width="0.95"/>
<line x1="410.6" y1="124.2" x2="430" y2="145.5" stroke="#000" stroke-width="0.95"/>
<circle cx="410.6" cy="117" r="1.75"/>
<circle cx="410.6" cy="101.4" r="1.75"/>
<circle cx="430" cy="128.9" r="1.75"/>
<circle cx="430" cy="123.8" r="1.75"/>
<circle cx="410.6" cy="81.4" r="1.75"/>
<circle cx="410.6" cy="60.8" r="1.75"/>
<circle cx="410.6" cy="124.2" r="1.75"/>
<circle cx="430" cy="143.3" r="1.75"/>
<circle cx="430" cy="145.5" r="1.75"/>
<circle cx="430" cy="154.7" r="1.75"/>
<line x1="403.4" y1="101.5" x2="417.8" y2="101.5" stroke="#3a3a3a" stroke-width="0.9"/>
<line x1="422" y1="143.5" x2="438.1" y2="143.5" stroke="#3a3a3a" stroke-width="0.9"/>
<line x1="449" y1="79.1" x2="468.1" y2="67.6" stroke="#000" stroke-width="0.95"/>
<line x1="449" y1="107.8" x2="468.1" y2="105.8" stroke="#000" stroke-width="0.95"/>
<line x1="449" y1="128.2" x2="468.1" y2="144.7" stroke="#000" stroke-width="0.95"/>
<line x1="449" y1="128.6" x2="468.1" y2="144.3" stroke="#000" stroke-width="0.95"/>
<circle cx="468.1" cy="67.6" r="1.75"/>
<circle cx="468.1" cy="144.7" r="1.75"/>
<circle cx="468.1" cy="144.3" r="1.75"/>
<circle cx="449" cy="128.2" r="1.75"/>
<circle cx="449" cy="128.6" r="1.75"/>
<circle cx="449" cy="107.8" r="1.75"/>
<circle cx="449" cy="79.1" r="1.75"/>
<circle cx="468.1" cy="105.8" r="1.75"/>
<line x1="441.4" y1="128.5" x2="457.4" y2="128.5" stroke="#3a3a3a" stroke-width="0.9"/>
<line x1="460.4" y1="144.5" x2="476.2" y2="144.5" stroke="#3a3a3a" stroke-width="0.9"/>
<line x1="333.1" y1="105.5" x2="351" y2="105.5" stroke="#333" stroke-width="1.1"/>
<text x="329.9" y="103.1" font-size="5.6" font-weight="normal" text-anchor="start" fill="#222" textLength="25" lengthAdjust="spacingAndGlyphs">p=0.0556</text>
<line x1="406.1" y1="54.8" x2="423.3" y2="54.8" stroke="#333" stroke-width="1.1"/>
<text x="402.2" y="52.9" font-size="5.6" font-weight="normal" text-anchor="start" fill="#222" textLength="25.1" lengthAdjust="spacingAndGlyphs">p=0.0952</text>
<line x1="321.5" y1="226.4" x2="321.5" y2="361" stroke="#000" stroke-width="1"/>
<line x1="319.3" y1="360.5" x2="321.5" y2="360.5" stroke="#000" stroke-width="0.9"/>
<text x="318.9" y="362.45" font-size="5.7" font-weight="bold" text-anchor="end" fill="#222">0</text>
<line x1="319.3" y1="327.07" x2="321.5" y2="327.07" stroke="#000" stroke-width="0.9"/>
<text x="318.9" y="329.02" font-size="5.7" font-weight="bold" text-anchor="end" fill="#222">20</text>
<line x1="319.3" y1="293.65" x2="321.5" y2="293.65" stroke="#000" stroke-width="0.9"/>
<text x="318.9" y="295.6" font-size="5.7" font-weight="bold" text-anchor="end" fill="#222">40</text>
<line x1="319.3" y1="260.23" x2="321.5" y2="260.23" stroke="#000" stroke-width="0.9"/>
<text x="318.9" y="262.18" font-size="5.7" font-weight="bold" text-anchor="end" fill="#222">60</text>
<line x1="319.3" y1="226.8" x2="321.5" y2="226.8" stroke="#000" stroke-width="0.9"/>
<text x="318.9" y="228.75" font-size="5.7" font-weight="bold" text-anchor="end" fill="#222">80</text>
<line x1="319.9" y1="357.16" x2="321.5" y2="357.16" stroke="#000" stroke-width="0.85"/>
<line x1="319.9" y1="353.81" x2="321.5" y2="353.81" stroke="#000" stroke-width="0.85"/>
<line x1="319.9" y1="350.47" x2="321.5" y2="350.47" stroke="#000" stroke-width="0.85"/>
<line x1="319.9" y1="347.13" x2="321.5" y2="347.13" stroke="#000" stroke-width="0.85"/>
<line x1="319.9" y1="343.79" x2="321.5" y2="343.79" stroke="#000" stroke-width="0.85"/>
<line x1="319.9" y1="340.44" x2="321.5" y2="340.44" stroke="#000" stroke-width="0.85"/>
<line x1="319.9" y1="337.1" x2="321.5" y2="337.1" stroke="#000" stroke-width="0.85"/>
<line x1="319.9" y1="333.76" x2="321.5" y2="333.76" stroke="#000" stroke-width="0.85"/>
<line x1="319.9" y1="330.42" x2="321.5" y2="330.42" stroke="#000" stroke-width="0.85"/>
<line x1="319.9" y1="323.73" x2="321.5" y2="323.73" stroke="#000" stroke-width="0.85"/>
<line x1="319.9" y1="320.39" x2="321.5" y2="320.39" stroke="#000" stroke-width="0.85"/>
<line x1="319.9" y1="317.05" x2="321.5" y2="317.05" stroke="#000" stroke-width="0.85"/>
<line x1="319.9" y1="313.7" x2="321.5" y2="313.7" stroke="#000" stroke-width="0.85"/>
<line x1="319.9" y1="310.36" x2="321.5" y2="310.36" stroke="#000" stroke-width="0.85"/>
<line x1="319.9" y1="307.02" x2="321.5" y2="307.02" stroke="#000" stroke-width="0.85"/>
<line x1="319.9" y1="303.68" x2="321.5" y2="303.68" stroke="#000" stroke-width="0.85"/>
<line x1="319.9" y1="300.33" x2="321.5" y2="300.33" stroke="#000" stroke-width="0.85"/>
<line x1="319.9" y1="296.99" x2="321.5" y2="296.99" stroke="#000" stroke-width="0.85"/>
<line x1="319.9" y1="290.31" x2="321.5" y2="290.31" stroke="#000" stroke-width="0.85"/>
<line x1="319.9" y1="286.97" x2="321.5" y2="286.97" stroke="#000" stroke-width="0.85"/>
<line x1="319.9" y1="283.62" x2="321.5" y2="283.62" stroke="#000" stroke-width="0.85"/>
<line x1="319.9" y1="280.28" x2="321.5" y2="280.28" stroke="#000" stroke-width="0.85"/>
<line x1="319.9" y1="276.94" x2="321.5" y2="276.94" stroke="#000" stroke-width="0.85"/>
<line x1="319.9" y1="273.6" x2="321.5" y2="273.6" stroke="#000" stroke-width="0.85"/>
<line x1="319.9" y1="270.25" x2="321.5" y2="270.25" stroke="#000" stroke-width="0.85"/>
<line x1="319.9" y1="266.91" x2="321.5" y2="266.91" stroke="#000" stroke-width="0.85"/>
<line x1="319.9" y1="263.57" x2="321.5" y2="263.57" stroke="#000" stroke-width="0.85"/>
<line x1="319.9" y1="256.88" x2="321.5" y2="256.88" stroke="#000" stroke-width="0.85"/>
<line x1="319.9" y1="253.54" x2="321.5" y2="253.54" stroke="#000" stroke-width="0.85"/>
<line x1="319.9" y1="250.2" x2="321.5" y2="250.2" stroke="#000" stroke-width="0.85"/>
<line x1="319.9" y1="246.86" x2="321.5" y2="246.86" stroke="#000" stroke-width="0.85"/>
<line x1="319.9" y1="243.51" x2="321.5" y2="243.51" stroke="#000" stroke-width="0.85"/>
<line x1="319.9" y1="240.17" x2="321.5" y2="240.17" stroke="#000" stroke-width="0.85"/>
<line x1="319.9" y1="236.83" x2="321.5" y2="236.83" stroke="#000" stroke-width="0.85"/>
<line x1="319.9" y1="233.49" x2="321.5" y2="233.49" stroke="#000" stroke-width="0.85"/>
<line x1="319.9" y1="230.14" x2="321.5" y2="230.14" stroke="#000" stroke-width="0.85"/>
<line x1="321" y1="360.5" x2="485.8" y2="360.5" stroke="#000" stroke-width="1"/>
<line x1="334.4" y1="360.5" x2="334.4" y2="362.5" stroke="#000" stroke-width="0.8"/>
<line x1="354.1" y1="360.5" x2="354.1" y2="362.5" stroke="#000" stroke-width="0.8"/>
<line x1="374.5" y1="360.5" x2="374.5" y2="362.5" stroke="#000" stroke-width="0.8"/>
<line x1="393.3" y1="360.5" x2="393.3" y2="362.5" stroke="#000" stroke-width="0.8"/>
<line x1="414.3" y1="360.5" x2="414.3" y2="362.5" stroke="#000" stroke-width="0.8"/>
<line x1="433.7" y1="360.5" x2="433.7" y2="362.5" stroke="#000" stroke-width="0.8"/>
<line x1="454.3" y1="360.5" x2="454.3" y2="362.5" stroke="#000" stroke-width="0.8"/>
<line x1="472" y1="360.5" x2="472" y2="362.5" stroke="#000" stroke-width="0.8"/>
<text transform="translate(305.2,290.9) rotate(-90)" x="0" y="0" font-size="7.8" font-weight="bold" text-anchor="middle" fill="#111" textLength="143.8" lengthAdjust="spacingAndGlyphs">Percent of CD14+CD11c+ IFNβ+ in MoDCs</text>
<rect x="333.05" y="368.15" width="2.7" height="1.1" fill="#222"/>
<rect x="351.9" y="368.15" width="4.4" height="1.15" fill="#000"/>
<rect x="353.53" y="366.4" width="1.15" height="4.6" fill="#000"/>
<rect x="373.15" y="368.15" width="2.7" height="1.1" fill="#222"/>
<rect x="391.1" y="368.15" width="4.4" height="1.15" fill="#000"/>
<rect x="392.73" y="366.4" width="1.15" height="4.6" fill="#000"/>
<rect x="412.95" y="368.15" width="2.7" height="1.1" fill="#222"/>
<rect x="431.5" y="368.15" width="4.4" height="1.15" fill="#000"/>
<rect x="433.13" y="366.4" width="1.15" height="4.6" fill="#000"/>
<rect x="452.95" y="368.15" width="2.7" height="1.1" fill="#222"/>
<rect x="469.8" y="368.15" width="4.4" height="1.15" fill="#000"/>
<rect x="471.43" y="366.4" width="1.15" height="4.6" fill="#000"/>
<rect x="333.05" y="379.25" width="2.7" height="1.1" fill="#222"/>
<rect x="352.75" y="379.25" width="2.7" height="1.1" fill="#222"/>
<rect x="372.3" y="379.25" width="4.4" height="1.15" fill="#000"/>
<rect x="373.93" y="377.5" width="1.15" height="4.6" fill="#000"/>
<rect x="391.1" y="379.25" width="4.4" height="1.15" fill="#000"/>
<rect x="392.73" y="377.5" width="1.15" height="4.6" fill="#000"/>
<rect x="412.95" y="379.25" width="2.7" height="1.1" fill="#222"/>
<rect x="432.35" y="379.25" width="2.7" height="1.1" fill="#222"/>
<rect x="452.1" y="379.25" width="4.4" height="1.15" fill="#000"/>
<rect x="453.73" y="377.5" width="1.15" height="4.6" fill="#000"/>
<rect x="469.8" y="379.25" width="4.4" height="1.15" fill="#000"/>
<rect x="471.43" y="377.5" width="1.15" height="4.6" fill="#000"/>
<rect x="333.05" y="391.05" width="2.7" height="1.1" fill="#222"/>
<rect x="352.75" y="391.05" width="2.7" height="1.1" fill="#222"/>
<rect x="373.15" y="391.05" width="2.7" height="1.1" fill="#222"/>
<rect x="391.95" y="391.05" width="2.7" height="1.1" fill="#222"/>
<rect x="412.1" y="391.05" width="4.4" height="1.15" fill="#000"/>
<rect x="413.73" y="389.3" width="1.15" height="4.6" fill="#000"/>
<rect x="431.5" y="391.05" width="4.4" height="1.15" fill="#000"/>
<rect x="433.13" y="389.3" width="1.15" height="4.6" fill="#000"/>
<rect x="452.1" y="391.05" width="4.4" height="1.15" fill="#000"/>
<rect x="453.73" y="389.3" width="1.15" height="4.6" fill="#000"/>
<rect x="469.8" y="391.05" width="4.4" height="1.15" fill="#000"/>
<rect x="471.43" y="389.3" width="1.15" height="4.6" fill="#000"/>
<text x="365.2" y="411.1" font-size="7.8" font-weight="bold" text-anchor="start" fill="#000" textLength="76.4" lengthAdjust="spacingAndGlyphs" stroke="#000" stroke-width="0.15">Inhibitor Conditions</text>
<line x1="334.3" y1="326.7" x2="354.1" y2="337.4" stroke="#000" stroke-width="0.95"/>
<line x1="334.3" y1="333.2" x2="354.1" y2="339.2" stroke="#000" stroke-width="0.95"/>
<line x1="334.3" y1="336.8" x2="354.1" y2="341" stroke="#000" stroke-width="0.95"/>
<line x1="334.3" y1="337.8" x2="354.1" y2="343.5" stroke="#000" stroke-width="0.95"/>
<line x1="334.3" y1="342.8" x2="354.1" y2="354.3" stroke="#000" stroke-width="0.95"/>
<line x1="334.3" y1="344.1" x2="354.1" y2="347.9" stroke="#000" stroke-width="0.95"/>
<line x1="334.3" y1="350.1" x2="354.1" y2="347.9" stroke="#000" stroke-width="0.95"/>
<line x1="334.3" y1="356.5" x2="354.1" y2="358" stroke="#000" stroke-width="0.95"/>
<circle cx="334.3" cy="326.7" r="1.75"/>
<circle cx="354.1" cy="337.4" r="1.75"/>
<circle cx="334.3" cy="336.8" r="1.75"/>
<circle cx="354.1" cy="341" r="1.75"/>
<circle cx="354.1" cy="354.3" r="1.75"/>
<circle cx="334.3" cy="342.8" r="1.75"/>
<circle cx="354.1" cy="343.5" r="1.75"/>
<circle cx="354.1" cy="339.2" r="1.75"/>
<circle cx="334.3" cy="344.1" r="1.75"/>
<circle cx="354.1" cy="358" r="1.75"/>
<circle cx="354.1" cy="347.9" r="1.75"/>
<circle cx="334.3" cy="337.8" r="1.75"/>
<circle cx="334.3" cy="333.2" r="1.75"/>
<circle cx="334.3" cy="356.5" r="1.75"/>
<circle cx="334.3" cy="350.1" r="1.75"/>
<line x1="326.6" y1="340.5" x2="341.4" y2="340.5" stroke="#3a3a3a" stroke-width="0.9"/>
<line x1="345.6" y1="343.5" x2="362" y2="343.5" stroke="#3a3a3a" stroke-width="0.9"/>
<line x1="373.8" y1="323.2" x2="393.4" y2="355" stroke="#000" stroke-width="0.95"/>
<line x1="373.8" y1="325.9" x2="393.4" y2="330.5" stroke="#000" stroke-width="0.95"/>
<line x1="373.8" y1="329.5" x2="393.4" y2="335.3" stroke="#000" stroke-width="0.95"/>
<line x1="373.8" y1="336.5" x2="393.4" y2="317.7" stroke="#000" stroke-width="0.95"/>
<line x1="373.8" y1="338.2" x2="393.4" y2="326.5" stroke="#000" stroke-width="0.95"/>
<line x1="373.8" y1="346.7" x2="393.4" y2="327.7" stroke="#000" stroke-width="0.95"/>
<line x1="373.8" y1="336.5" x2="393.4" y2="340.4" stroke="#000" stroke-width="0.95"/>
<circle cx="393.4" cy="335.3" r="1.75"/>
<circle cx="393.4" cy="327.7" r="1.75"/>
<circle cx="373.8" cy="329.5" r="1.75"/>
<circle cx="373.8" cy="325.9" r="1.75"/>
<circle cx="393.4" cy="317.7" r="1.75"/>
<circle cx="393.4" cy="330.5" r="1.75"/>
<circle cx="373.8" cy="338.2" r="1.75"/>
<circle cx="393.4" cy="326.5" r="1.75"/>
<circle cx="393.4" cy="355" r="1.75"/>
<circle cx="373.8" cy="346.7" r="1.75"/>
<circle cx="373.8" cy="323.2" r="1.75"/>
<circle cx="393.4" cy="340.4" r="1.75"/>
<circle cx="373.8" cy="336.5" r="1.75"/>
<line x1="366.2" y1="336.5" x2="381.3" y2="336.5" stroke="#3a3a3a" stroke-width="0.9"/>
<line x1="385" y1="333.5" x2="401.9" y2="333.5" stroke="#3a3a3a" stroke-width="0.9"/>
<line x1="413.4" y1="286.2" x2="432.9" y2="293.4" stroke="#000" stroke-width="0.95"/>
<line x1="413.4" y1="321.6" x2="432.9" y2="318.1" stroke="#000" stroke-width="0.95"/>
<line x1="413.4" y1="326.9" x2="432.9" y2="326.9" stroke="#000" stroke-width="0.95"/>
<line x1="413.4" y1="329.8" x2="432.9" y2="328.4" stroke="#000" stroke-width="0.95"/>
<line x1="413.4" y1="333.1" x2="432.9" y2="330.4" stroke="#000" stroke-width="0.95"/>
<line x1="413.4" y1="335.1" x2="432.9" y2="338.6" stroke="#000" stroke-width="0.95"/>
<line x1="413.4" y1="354.7" x2="432.9" y2="346.5" stroke="#000" stroke-width="0.95"/>
<circle cx="413.4" cy="333.1" r="1.75"/>
<circle cx="432.9" cy="338.6" r="1.75"/>
<circle cx="413.4" cy="329.8" r="1.75"/>
<circle cx="432.9" cy="330.4" r="1.75"/>
<circle cx="413.4" cy="354.7" r="1.75"/>
<circle cx="432.9" cy="318.1" r="1.75"/>
<circle cx="432.9" cy="326.9" r="1.75"/>
<circle cx="413.4" cy="286.2" r="1.75"/>
<circle cx="413.4" cy="335.1" r="1.75"/>
<circle cx="432.9" cy="346.5" r="1.75"/>
<circle cx="432.9" cy="293.4" r="1.75"/>
<circle cx="432.9" cy="328.4" r="1.75"/>
<circle cx="413.4" cy="326.9" r="1.75"/>
<circle cx="413.4" cy="321.6" r="1.75"/>
<line x1="405.1" y1="330.5" x2="421.6" y2="330.5" stroke="#3a3a3a" stroke-width="0.9"/>
<line x1="424" y1="330.5" x2="441" y2="330.5" stroke="#3a3a3a" stroke-width="0.9"/>
<line x1="452.5" y1="321.6" x2="472" y2="329.4" stroke="#000" stroke-width="0.95"/>
<line x1="452.5" y1="325.7" x2="472" y2="324.2" stroke="#000" stroke-width="0.95"/>
<line x1="452.5" y1="329.4" x2="472" y2="326.3" stroke="#000" stroke-width="0.95"/>
<line x1="452.5" y1="333.9" x2="472" y2="347.5" stroke="#000" stroke-width="0.95"/>
<line x1="452.5" y1="336" x2="472" y2="337.2" stroke="#000" stroke-width="0.95"/>
<line x1="452.5" y1="348.3" x2="472" y2="351.6" stroke="#000" stroke-width="0.95"/>
<line x1="452.5" y1="355.1" x2="472" y2="355.1" stroke="#000" stroke-width="0.95"/>
<circle cx="472" cy="351.6" r="1.75"/>
<circle cx="472" cy="347.5" r="1.75"/>
<circle cx="472" cy="337.2" r="1.75"/>
<circle cx="472" cy="324.2" r="1.75"/>
<circle cx="452.5" cy="325.7" r="1.75"/>
<circle cx="452.5" cy="348.3" r="1.75"/>
<circle cx="452.5" cy="355.1" r="1.75"/>
<circle cx="472" cy="329.4" r="1.75"/>
<circle cx="452.5" cy="333.9" r="1.75"/>
<circle cx="472" cy="326.3" r="1.75"/>
<circle cx="452.5" cy="321.6" r="1.75"/>
<circle cx="452.5" cy="329.4" r="1.75"/>
<circle cx="472" cy="355.1" r="1.75"/>
<circle cx="452.5" cy="336" r="1.75"/>
<line x1="444.9" y1="335.5" x2="460.7" y2="335.5" stroke="#3a3a3a" stroke-width="0.9"/>
<line x1="461.7" y1="342.5" x2="479.8" y2="342.5" stroke="#3a3a3a" stroke-width="0.9"/>
<line x1="519.5" y1="28.2" x2="519.5" y2="159" stroke="#000" stroke-width="1"/>
<line x1="517.3" y1="158.5" x2="519.5" y2="158.5" stroke="#000" stroke-width="0.9"/>
<text x="516.9" y="160.45" font-size="5.7" font-weight="bold" text-anchor="end" fill="#222">0</text>
<line x1="517.3" y1="126.03" x2="519.5" y2="126.03" stroke="#000" stroke-width="0.9"/>
<text x="516.9" y="127.98" font-size="5.7" font-weight="bold" text-anchor="end" fill="#222">30</text>
<line x1="517.3" y1="93.55" x2="519.5" y2="93.55" stroke="#000" stroke-width="0.9"/>
<text x="516.9" y="95.5" font-size="5.7" font-weight="bold" text-anchor="end" fill="#222">60</text>
<line x1="517.3" y1="61.08" x2="519.5" y2="61.08" stroke="#000" stroke-width="0.9"/>
<text x="516.9" y="63.03" font-size="5.7" font-weight="bold" text-anchor="end" fill="#222">90</text>
<line x1="517.3" y1="28.6" x2="519.5" y2="28.6" stroke="#000" stroke-width="0.9"/>
<text x="516.9" y="30.55" font-size="5.7" font-weight="bold" text-anchor="end" fill="#222">120</text>
<line x1="517.9" y1="155.25" x2="519.5" y2="155.25" stroke="#000" stroke-width="0.85"/>
<line x1="517.9" y1="152" x2="519.5" y2="152" stroke="#000" stroke-width="0.85"/>
<line x1="517.9" y1="148.76" x2="519.5" y2="148.76" stroke="#000" stroke-width="0.85"/>
<line x1="517.9" y1="145.51" x2="519.5" y2="145.51" stroke="#000" stroke-width="0.85"/>
<line x1="517.9" y1="142.26" x2="519.5" y2="142.26" stroke="#000" stroke-width="0.85"/>
<line x1="517.9" y1="139.01" x2="519.5" y2="139.01" stroke="#000" stroke-width="0.85"/>
<line x1="517.9" y1="135.77" x2="519.5" y2="135.77" stroke="#000" stroke-width="0.85"/>
<line x1="517.9" y1="132.52" x2="519.5" y2="132.52" stroke="#000" stroke-width="0.85"/>
<line x1="517.9" y1="129.27" x2="519.5" y2="129.27" stroke="#000" stroke-width="0.85"/>
<line x1="517.9" y1="122.78" x2="519.5" y2="122.78" stroke="#000" stroke-width="0.85"/>
<line x1="517.9" y1="119.53" x2="519.5" y2="119.53" stroke="#000" stroke-width="0.85"/>
<line x1="517.9" y1="116.28" x2="519.5" y2="116.28" stroke="#000" stroke-width="0.85"/>
<line x1="517.9" y1="113.03" x2="519.5" y2="113.03" stroke="#000" stroke-width="0.85"/>
<line x1="517.9" y1="109.79" x2="519.5" y2="109.79" stroke="#000" stroke-width="0.85"/>
<line x1="517.9" y1="106.54" x2="519.5" y2="106.54" stroke="#000" stroke-width="0.85"/>
<line x1="517.9" y1="103.29" x2="519.5" y2="103.29" stroke="#000" stroke-width="0.85"/>
<line x1="517.9" y1="100.05" x2="519.5" y2="100.05" stroke="#000" stroke-width="0.85"/>
<line x1="517.9" y1="96.8" x2="519.5" y2="96.8" stroke="#000" stroke-width="0.85"/>
<line x1="517.9" y1="90.3" x2="519.5" y2="90.3" stroke="#000" stroke-width="0.85"/>
<line x1="517.9" y1="87.05" x2="519.5" y2="87.05" stroke="#000" stroke-width="0.85"/>
<line x1="517.9" y1="83.81" x2="519.5" y2="83.81" stroke="#000" stroke-width="0.85"/>
<line x1="517.9" y1="80.56" x2="519.5" y2="80.56" stroke="#000" stroke-width="0.85"/>
<line x1="517.9" y1="77.31" x2="519.5" y2="77.31" stroke="#000" stroke-width="0.85"/>
<line x1="517.9" y1="74.06" x2="519.5" y2="74.06" stroke="#000" stroke-width="0.85"/>
<line x1="517.9" y1="70.82" x2="519.5" y2="70.82" stroke="#000" stroke-width="0.85"/>
<line x1="517.9" y1="67.57" x2="519.5" y2="67.57" stroke="#000" stroke-width="0.85"/>
<line x1="517.9" y1="64.32" x2="519.5" y2="64.32" stroke="#000" stroke-width="0.85"/>
<line x1="517.9" y1="57.83" x2="519.5" y2="57.83" stroke="#000" stroke-width="0.85"/>
<line x1="517.9" y1="54.58" x2="519.5" y2="54.58" stroke="#000" stroke-width="0.85"/>
<line x1="517.9" y1="51.33" x2="519.5" y2="51.33" stroke="#000" stroke-width="0.85"/>
<line x1="517.9" y1="48.08" x2="519.5" y2="48.08" stroke="#000" stroke-width="0.85"/>
<line x1="517.9" y1="44.84" x2="519.5" y2="44.84" stroke="#000" stroke-width="0.85"/>
<line x1="517.9" y1="41.59" x2="519.5" y2="41.59" stroke="#000" stroke-width="0.85"/>
<line x1="517.9" y1="38.34" x2="519.5" y2="38.34" stroke="#000" stroke-width="0.85"/>
<line x1="517.9" y1="35.09" x2="519.5" y2="35.09" stroke="#000" stroke-width="0.85"/>
<line x1="517.9" y1="31.85" x2="519.5" y2="31.85" stroke="#000" stroke-width="0.85"/>
<line x1="519" y1="158.5" x2="680" y2="158.5" stroke="#000" stroke-width="1"/>
<line x1="532" y1="158.5" x2="532" y2="160.5" stroke="#000" stroke-width="0.8"/>
<line x1="550.8" y1="158.5" x2="550.8" y2="160.5" stroke="#000" stroke-width="0.8"/>
<line x1="571" y1="158.5" x2="571" y2="160.5" stroke="#000" stroke-width="0.8"/>
<line x1="589.6" y1="158.5" x2="589.6" y2="160.5" stroke="#000" stroke-width="0.8"/>
<line x1="608.9" y1="158.5" x2="608.9" y2="160.5" stroke="#000" stroke-width="0.8"/>
<line x1="627.5" y1="158.5" x2="627.5" y2="160.5" stroke="#000" stroke-width="0.8"/>
<line x1="647.3" y1="158.5" x2="647.3" y2="160.5" stroke="#000" stroke-width="0.8"/>
<line x1="666.7" y1="158.5" x2="666.7" y2="160.5" stroke="#000" stroke-width="0.8"/>
<text transform="translate(504.1,90.1) rotate(-90)" x="0" y="0" font-size="8" font-weight="bold" text-anchor="middle" fill="#111" textLength="124.6" lengthAdjust="spacingAndGlyphs">Percent of CD14++CD16+ IFNβ+ in iM</text>
<rect x="530.65" y="165.55" width="2.7" height="1.1" fill="#222"/>
<rect x="548.6" y="165.55" width="4.4" height="1.15" fill="#000"/>
<rect x="550.23" y="163.8" width="1.15" height="4.6" fill="#000"/>
<rect x="569.65" y="165.55" width="2.7" height="1.1" fill="#222"/>
<rect x="587.4" y="165.55" width="4.4" height="1.15" fill="#000"/>
<rect x="589.03" y="163.8" width="1.15" height="4.6" fill="#000"/>
<rect x="607.55" y="165.55" width="2.7" height="1.1" fill="#222"/>
<rect x="625.3" y="165.55" width="4.4" height="1.15" fill="#000"/>
<rect x="626.93" y="163.8" width="1.15" height="4.6" fill="#000"/>
<rect x="645.95" y="165.55" width="2.7" height="1.1" fill="#222"/>
<rect x="664.5" y="165.55" width="4.4" height="1.15" fill="#000"/>
<rect x="666.13" y="163.8" width="1.15" height="4.6" fill="#000"/>
<rect x="530.65" y="176.15" width="2.7" height="1.1" fill="#222"/>
<rect x="549.45" y="176.15" width="2.7" height="1.1" fill="#222"/>
<rect x="568.8" y="176.15" width="4.4" height="1.15" fill="#000"/>
<rect x="570.43" y="174.4" width="1.15" height="4.6" fill="#000"/>
<rect x="587.4" y="176.15" width="4.4" height="1.15" fill="#000"/>
<rect x="589.03" y="174.4" width="1.15" height="4.6" fill="#000"/>
<rect x="607.55" y="176.15" width="2.7" height="1.1" fill="#222"/>
<rect x="626.15" y="176.15" width="2.7" height="1.1" fill="#222"/>
<rect x="645.1" y="176.15" width="4.4" height="1.15" fill="#000"/>
<rect x="646.73" y="174.4" width="1.15" height="4.6" fill="#000"/>
<rect x="664.5" y="176.15" width="4.4" height="1.15" fill="#000"/>
<rect x="666.13" y="174.4" width="1.15" height="4.6" fill="#000"/>
<rect x="530.65" y="187.45" width="2.7" height="1.1" fill="#222"/>
<rect x="549.45" y="187.45" width="2.7" height="1.1" fill="#222"/>
<rect x="569.65" y="187.45" width="2.7" height="1.1" fill="#222"/>
<rect x="588.25" y="187.45" width="2.7" height="1.1" fill="#222"/>
<rect x="606.7" y="187.45" width="4.4" height="1.15" fill="#000"/>
<rect x="608.33" y="185.7" width="1.15" height="4.6" fill="#000"/>
<rect x="625.3" y="187.45" width="4.4" height="1.15" fill="#000"/>
<rect x="626.93" y="185.7" width="1.15" height="4.6" fill="#000"/>
<rect x="645.1" y="187.45" width="4.4" height="1.15" fill="#000"/>
<rect x="646.73" y="185.7" width="1.15" height="4.6" fill="#000"/>
<rect x="664.5" y="187.45" width="4.4" height="1.15" fill="#000"/>
<rect x="666.13" y="185.7" width="1.15" height="4.6" fill="#000"/>
<text x="562.6" y="207.1" font-size="7.8" font-weight="bold" text-anchor="start" fill="#000" textLength="74" lengthAdjust="spacingAndGlyphs" stroke="#000" stroke-width="0.15">Inhibitor Conditions</text>
<line x1="532.4" y1="105.5" x2="551.5" y2="137" stroke="#000" stroke-width="0.95"/>
<line x1="532.4" y1="115.3" x2="551.5" y2="138.2" stroke="#000" stroke-width="0.95"/>
<line x1="532.4" y1="120.4" x2="551.5" y2="145.5" stroke="#000" stroke-width="0.95"/>
<line x1="532.4" y1="137" x2="551.5" y2="154" stroke="#000" stroke-width="0.95"/>
<line x1="532.4" y1="144.5" x2="551.5" y2="158.6" stroke="#000" stroke-width="0.95"/>
<circle cx="532.4" cy="115.3" r="1.75"/>
<circle cx="551.5" cy="154" r="1.75"/>
<circle cx="532.4" cy="120.4" r="1.75"/>
<circle cx="551.5" cy="137" r="1.75"/>
<circle cx="532.4" cy="144.5" r="1.75"/>
<circle cx="532.4" cy="105.5" r="1.75"/>
<circle cx="551.5" cy="158.6" r="1.75"/>
<circle cx="551.5" cy="145.5" r="1.75"/>
<circle cx="532.4" cy="137" r="1.75"/>
<circle cx="551.5" cy="138.2" r="1.75"/>
<line x1="524.9" y1="120.5" x2="540.5" y2="120.5" stroke="#3a3a3a" stroke-width="0.9"/>
<line x1="543.9" y1="145.5" x2="559.5" y2="145.5" stroke="#3a3a3a" stroke-width="0.9"/>
<line x1="570.9" y1="50.6" x2="589.8" y2="86.4" stroke="#000" stroke-width="0.95"/>
<line x1="570.9" y1="113.4" x2="589.8" y2="110.2" stroke="#000" stroke-width="0.95"/>
<line x1="570.9" y1="125.5" x2="589.8" y2="136.5" stroke="#000" stroke-width="0.95"/>
<line x1="570.9" y1="129.9" x2="589.8" y2="151.1" stroke="#000" stroke-width="0.95"/>
<line x1="570.9" y1="159" x2="589.8" y2="159" stroke="#000" stroke-width="0.95"/>
<circle cx="570.9" cy="159" r="1.75"/>
<circle cx="589.8" cy="86.4" r="1.75"/>
<circle cx="589.8" cy="110.2" r="1.75"/>
<circle cx="570.9" cy="129.9" r="1.75"/>
<circle cx="570.9" cy="113.4" r="1.75"/>
<circle cx="570.9" cy="125.5" r="1.75"/>
<circle cx="589.8" cy="136.5" r="1.75"/>
<circle cx="589.8" cy="159" r="1.75"/>
<circle cx="570.9" cy="50.6" r="1.75"/>
<circle cx="589.8" cy="151.1" r="1.75"/>
<line x1="563.1" y1="125.5" x2="578.6" y2="125.5" stroke="#3a3a3a" stroke-width="0.9"/>
<line x1="582" y1="136.5" x2="597.7" y2="136.5" stroke="#3a3a3a" stroke-width="0.9"/>
<line x1="609" y1="50.4" x2="628.3" y2="158.6" stroke="#000" stroke-width="0.95"/>
<line x1="609" y1="107.9" x2="628.3" y2="95.3" stroke="#000" stroke-width="0.95"/>
<line x1="609" y1="115.4" x2="628.3" y2="147.4" stroke="#000" stroke-width="0.95"/>
<line x1="609" y1="149.3" x2="628.3" y2="149.3" stroke="#000" stroke-width="0.95"/>
<circle cx="628.3" cy="95.3" r="1.75"/>
<circle cx="609" cy="107.9" r="1.75"/>
<circle cx="609" cy="50.4" r="1.75"/>
<circle cx="609" cy="149.3" r="1.75"/>
<circle cx="628.3" cy="147.4" r="1.75"/>
<circle cx="628.3" cy="149.3" r="1.75"/>
<circle cx="628.3" cy="158.6" r="1.75"/>
<circle cx="609" cy="115.4" r="1.75"/>
<line x1="601.8" y1="107.5" x2="616.3" y2="107.5" stroke="#3a3a3a" stroke-width="0.9"/>
<line x1="621.2" y1="151.5" x2="636.7" y2="151.5" stroke="#3a3a3a" stroke-width="0.9"/>
<line x1="647.4" y1="118" x2="666.6" y2="115.4" stroke="#000" stroke-width="0.95"/>
<line x1="647.4" y1="122.4" x2="666.6" y2="122.2" stroke="#000" stroke-width="0.95"/>
<line x1="647.4" y1="125.7" x2="666.6" y2="126.7" stroke="#000" stroke-width="0.95"/>
<line x1="647.4" y1="132.1" x2="666.6" y2="96.6" stroke="#000" stroke-width="0.95"/>
<line x1="647.4" y1="152.4" x2="666.6" y2="154.4" stroke="#000" stroke-width="0.95"/>
<circle cx="666.6" cy="96.6" r="1.75"/>
<circle cx="666.6" cy="154.4" r="1.75"/>
<circle cx="647.4" cy="125.7" r="1.75"/>
<circle cx="647.4" cy="152.4" r="1.75"/>
<circle cx="666.6" cy="126.7" r="1.75"/>
<circle cx="647.4" cy="132.1" r="1.75"/>
<circle cx="666.6" cy="115.4" r="1.75"/>
<circle cx="647.4" cy="122.4" r="1.75"/>
<circle cx="666.6" cy="122.2" r="1.75"/>
<circle cx="647.4" cy="118" r="1.75"/>
<line x1="639.8" y1="125.5" x2="654.4" y2="125.5" stroke="#3a3a3a" stroke-width="0.9"/>
<line x1="656.3" y1="122.5" x2="674.7" y2="122.5" stroke="#3a3a3a" stroke-width="0.9"/>
<line x1="531.1" y1="96.5" x2="548.9" y2="96.5" stroke="#333" stroke-width="1.1"/>
<text x="540.1" y="97.3" font-size="9.5" font-weight="bold" text-anchor="middle" fill="#000">*</text>
<line x1="607" y1="42.3" x2="625" y2="42.3" stroke="#333" stroke-width="1.1"/>
<text x="603.1" y="40.3" font-size="5.6" font-weight="normal" text-anchor="start" fill="#222" textLength="25.5" lengthAdjust="spacingAndGlyphs">p=0.0794</text>
<line x1="519.5" y1="227.9" x2="519.5" y2="361" stroke="#000" stroke-width="1"/>
<line x1="517.3" y1="360.5" x2="519.5" y2="360.5" stroke="#000" stroke-width="0.9"/>
<text x="516.9" y="362.45" font-size="5.7" font-weight="bold" text-anchor="end" fill="#222">0</text>
<line x1="517.3" y1="327.45" x2="519.5" y2="327.45" stroke="#000" stroke-width="0.9"/>
<text x="516.9" y="329.4" font-size="5.7" font-weight="bold" text-anchor="end" fill="#222">30</text>
<line x1="517.3" y1="294.4" x2="519.5" y2="294.4" stroke="#000" stroke-width="0.9"/>
<text x="516.9" y="296.35" font-size="5.7" font-weight="bold" text-anchor="end" fill="#222">60</text>
<line x1="517.3" y1="261.35" x2="519.5" y2="261.35" stroke="#000" stroke-width="0.9"/>
<text x="516.9" y="263.3" font-size="5.7" font-weight="bold" text-anchor="end" fill="#222">90</text>
<line x1="517.3" y1="228.3" x2="519.5" y2="228.3" stroke="#000" stroke-width="0.9"/>
<text x="516.9" y="230.25" font-size="5.7" font-weight="bold" text-anchor="end" fill="#222">120</text>
<line x1="517.9" y1="357.19" x2="519.5" y2="357.19" stroke="#000" stroke-width="0.85"/>
<line x1="517.9" y1="353.89" x2="519.5" y2="353.89" stroke="#000" stroke-width="0.85"/>
<line x1="517.9" y1="350.58" x2="519.5" y2="350.58" stroke="#000" stroke-width="0.85"/>
<line x1="517.9" y1="347.28" x2="519.5" y2="347.28" stroke="#000" stroke-width="0.85"/>
<line x1="517.9" y1="343.98" x2="519.5" y2="343.98" stroke="#000" stroke-width="0.85"/>
<line x1="517.9" y1="340.67" x2="519.5" y2="340.67" stroke="#000" stroke-width="0.85"/>
<line x1="517.9" y1="337.37" x2="519.5" y2="337.37" stroke="#000" stroke-width="0.85"/>
<line x1="517.9" y1="334.06" x2="519.5" y2="334.06" stroke="#000" stroke-width="0.85"/>
<line x1="517.9" y1="330.75" x2="519.5" y2="330.75" stroke="#000" stroke-width="0.85"/>
<line x1="517.9" y1="324.14" x2="519.5" y2="324.14" stroke="#000" stroke-width="0.85"/>
<line x1="517.9" y1="320.84" x2="519.5" y2="320.84" stroke="#000" stroke-width="0.85"/>
<line x1="517.9" y1="317.54" x2="519.5" y2="317.54" stroke="#000" stroke-width="0.85"/>
<line x1="517.9" y1="314.23" x2="519.5" y2="314.23" stroke="#000" stroke-width="0.85"/>
<line x1="517.9" y1="310.93" x2="519.5" y2="310.93" stroke="#000" stroke-width="0.85"/>
<line x1="517.9" y1="307.62" x2="519.5" y2="307.62" stroke="#000" stroke-width="0.85"/>
<line x1="517.9" y1="304.31" x2="519.5" y2="304.31" stroke="#000" stroke-width="0.85"/>
<line x1="517.9" y1="301.01" x2="519.5" y2="301.01" stroke="#000" stroke-width="0.85"/>
<line x1="517.9" y1="297.7" x2="519.5" y2="297.7" stroke="#000" stroke-width="0.85"/>
<line x1="517.9" y1="291.1" x2="519.5" y2="291.1" stroke="#000" stroke-width="0.85"/>
<line x1="517.9" y1="287.79" x2="519.5" y2="287.79" stroke="#000" stroke-width="0.85"/>
<line x1="517.9" y1="284.49" x2="519.5" y2="284.49" stroke="#000" stroke-width="0.85"/>
<line x1="517.9" y1="281.18" x2="519.5" y2="281.18" stroke="#000" stroke-width="0.85"/>
<line x1="517.9" y1="277.88" x2="519.5" y2="277.88" stroke="#000" stroke-width="0.85"/>
<line x1="517.9" y1="274.57" x2="519.5" y2="274.57" stroke="#000" stroke-width="0.85"/>
<line x1="517.9" y1="271.26" x2="519.5" y2="271.26" stroke="#000" stroke-width="0.85"/>
<line x1="517.9" y1="267.96" x2="519.5" y2="267.96" stroke="#000" stroke-width="0.85"/>
<line x1="517.9" y1="264.65" x2="519.5" y2="264.65" stroke="#000" stroke-width="0.85"/>
<line x1="517.9" y1="258.05" x2="519.5" y2="258.05" stroke="#000" stroke-width="0.85"/>
<line x1="517.9" y1="254.74" x2="519.5" y2="254.74" stroke="#000" stroke-width="0.85"/>
<line x1="517.9" y1="251.44" x2="519.5" y2="251.44" stroke="#000" stroke-width="0.85"/>
<line x1="517.9" y1="248.13" x2="519.5" y2="248.13" stroke="#000" stroke-width="0.85"/>
<line x1="517.9" y1="244.83" x2="519.5" y2="244.83" stroke="#000" stroke-width="0.85"/>
<line x1="517.9" y1="241.52" x2="519.5" y2="241.52" stroke="#000" stroke-width="0.85"/>
<line x1="517.9" y1="238.22" x2="519.5" y2="238.22" stroke="#000" stroke-width="0.85"/>
<line x1="517.9" y1="234.91" x2="519.5" y2="234.91" stroke="#000" stroke-width="0.85"/>
<line x1="517.9" y1="231.61" x2="519.5" y2="231.61" stroke="#000" stroke-width="0.85"/>
<line x1="519" y1="360.5" x2="682.5" y2="360.5" stroke="#000" stroke-width="1"/>
<line x1="532.1" y1="360.5" x2="532.1" y2="362.5" stroke="#000" stroke-width="0.8"/>
<line x1="552" y1="360.5" x2="552" y2="362.5" stroke="#000" stroke-width="0.8"/>
<line x1="571.9" y1="360.5" x2="571.9" y2="362.5" stroke="#000" stroke-width="0.8"/>
<line x1="591.1" y1="360.5" x2="591.1" y2="362.5" stroke="#000" stroke-width="0.8"/>
<line x1="610.6" y1="360.5" x2="610.6" y2="362.5" stroke="#000" stroke-width="0.8"/>
<line x1="630.2" y1="360.5" x2="630.2" y2="362.5" stroke="#000" stroke-width="0.8"/>
<line x1="649.9" y1="360.5" x2="649.9" y2="362.5" stroke="#000" stroke-width="0.8"/>
<line x1="669.4" y1="360.5" x2="669.4" y2="362.5" stroke="#000" stroke-width="0.8"/>
<text transform="translate(504.9,293.1) rotate(-90)" x="0" y="0" font-size="8" font-weight="bold" text-anchor="middle" fill="#111" textLength="126.4" lengthAdjust="spacingAndGlyphs">Percent of CD14++CD16+ IFNβ+ in iM</text>
<rect x="530.75" y="368.55" width="2.7" height="1.1" fill="#222"/>
<rect x="549.8" y="368.55" width="4.4" height="1.15" fill="#000"/>
<rect x="551.43" y="366.8" width="1.15" height="4.6" fill="#000"/>
<rect x="570.55" y="368.55" width="2.7" height="1.1" fill="#222"/>
<rect x="588.9" y="368.55" width="4.4" height="1.15" fill="#000"/>
<rect x="590.53" y="366.8" width="1.15" height="4.6" fill="#000"/>
<rect x="609.25" y="368.55" width="2.7" height="1.1" fill="#222"/>
<rect x="628" y="368.55" width="4.4" height="1.15" fill="#000"/>
<rect x="629.63" y="366.8" width="1.15" height="4.6" fill="#000"/>
<rect x="648.55" y="368.55" width="2.7" height="1.1" fill="#222"/>
<rect x="667.2" y="368.55" width="4.4" height="1.15" fill="#000"/>
<rect x="668.83" y="366.8" width="1.15" height="4.6" fill="#000"/>
<rect x="530.75" y="379.25" width="2.7" height="1.1" fill="#222"/>
<rect x="550.65" y="379.25" width="2.7" height="1.1" fill="#222"/>
<rect x="569.7" y="379.25" width="4.4" height="1.15" fill="#000"/>
<rect x="571.33" y="377.5" width="1.15" height="4.6" fill="#000"/>
<rect x="588.9" y="379.25" width="4.4" height="1.15" fill="#000"/>
<rect x="590.53" y="377.5" width="1.15" height="4.6" fill="#000"/>
<rect x="609.25" y="379.25" width="2.7" height="1.1" fill="#222"/>
<rect x="628.85" y="379.25" width="2.7" height="1.1" fill="#222"/>
<rect x="647.7" y="379.25" width="4.4" height="1.15" fill="#000"/>
<rect x="649.33" y="377.5" width="1.15" height="4.6" fill="#000"/>
<rect x="667.2" y="379.25" width="4.4" height="1.15" fill="#000"/>
<rect x="668.83" y="377.5" width="1.15" height="4.6" fill="#000"/>
<rect x="530.75" y="391.15" width="2.7" height="1.1" fill="#222"/>
<rect x="550.65" y="391.15" width="2.7" height="1.1" fill="#222"/>
<rect x="570.55" y="391.15" width="2.7" height="1.1" fill="#222"/>
<rect x="589.75" y="391.15" width="2.7" height="1.1" fill="#222"/>
<rect x="608.4" y="391.15" width="4.4" height="1.15" fill="#000"/>
<rect x="610.03" y="389.4" width="1.15" height="4.6" fill="#000"/>
<rect x="628" y="391.15" width="4.4" height="1.15" fill="#000"/>
<rect x="629.63" y="389.4" width="1.15" height="4.6" fill="#000"/>
<rect x="647.7" y="391.15" width="4.4" height="1.15" fill="#000"/>
<rect x="649.33" y="389.4" width="1.15" height="4.6" fill="#000"/>
<rect x="667.2" y="391.15" width="4.4" height="1.15" fill="#000"/>
<rect x="668.83" y="389.4" width="1.15" height="4.6" fill="#000"/>
<text x="563.4" y="410" font-size="7.8" font-weight="bold" text-anchor="start" fill="#000" textLength="75.4" lengthAdjust="spacingAndGlyphs" stroke="#000" stroke-width="0.15">Inhibitor Conditions</text>
<line x1="532.2" y1="277.7" x2="552.1" y2="289.4" stroke="#000" stroke-width="0.95"/>
<line x1="532.2" y1="324" x2="552.1" y2="331" stroke="#000" stroke-width="0.95"/>
<line x1="532.2" y1="335.9" x2="552.1" y2="338.5" stroke="#000" stroke-width="0.95"/>
<line x1="532.2" y1="338.3" x2="552.1" y2="356.7" stroke="#000" stroke-width="0.95"/>
<line x1="532.2" y1="340.2" x2="552.1" y2="350.4" stroke="#000" stroke-width="0.95"/>
<line x1="532.2" y1="342.6" x2="552.1" y2="358.4" stroke="#000" stroke-width="0.95"/>
<line x1="532.2" y1="338" x2="552.1" y2="339.5" stroke="#000" stroke-width="0.95"/>
<circle cx="552.1" cy="331" r="1.75"/>
<circle cx="532.2" cy="277.7" r="1.75"/>
<circle cx="532.2" cy="335.9" r="1.75"/>
<circle cx="552.1" cy="356.7" r="1.75"/>
<circle cx="552.1" cy="350.4" r="1.75"/>
<circle cx="532.2" cy="342.6" r="1.75"/>
<circle cx="532.2" cy="338" r="1.75"/>
<circle cx="552.1" cy="358.4" r="1.75"/>
<circle cx="532.2" cy="338.3" r="1.75"/>
<circle cx="532.2" cy="340.2" r="1.75"/>
<circle cx="552.1" cy="339.5" r="1.75"/>
<circle cx="532.2" cy="324" r="1.75"/>
<circle cx="552.1" cy="338.5" r="1.75"/>
<circle cx="552.1" cy="289.4" r="1.75"/>
<line x1="524.4" y1="338.5" x2="541.3" y2="338.5" stroke="#3a3a3a" stroke-width="0.9"/>
<line x1="546.2" y1="338.5" x2="561.2" y2="338.5" stroke="#3a3a3a" stroke-width="0.9"/>
<line x1="571.8" y1="294.2" x2="591.1" y2="320.4" stroke="#000" stroke-width="0.95"/>
<line x1="571.8" y1="324" x2="591.1" y2="335.4" stroke="#000" stroke-width="0.95"/>
<line x1="571.8" y1="338.3" x2="591.1" y2="337.3" stroke="#000" stroke-width="0.95"/>
<line x1="571.8" y1="340.7" x2="591.1" y2="343.4" stroke="#000" stroke-width="0.95"/>
<line x1="571.8" y1="343.8" x2="591.1" y2="345.5" stroke="#000" stroke-width="0.95"/>
<line x1="571.8" y1="347" x2="591.1" y2="348.7" stroke="#000" stroke-width="0.95"/>
<line x1="571.8" y1="349.2" x2="591.1" y2="351.6" stroke="#000" stroke-width="0.95"/>
<circle cx="591.1" cy="351.6" r="1.75"/>
<circle cx="591.1" cy="343.4" r="1.75"/>
<circle cx="591.1" cy="320.4" r="1.75"/>
<circle cx="591.1" cy="337.3" r="1.75"/>
<circle cx="571.8" cy="347" r="1.75"/>
<circle cx="571.8" cy="338.3" r="1.75"/>
<circle cx="591.1" cy="348.7" r="1.75"/>
<circle cx="571.8" cy="340.7" r="1.75"/>
<circle cx="591.1" cy="335.4" r="1.75"/>
<circle cx="571.8" cy="324" r="1.75"/>
<circle cx="591.1" cy="345.5" r="1.75"/>
<circle cx="571.8" cy="349.2" r="1.75"/>
<circle cx="571.8" cy="343.8" r="1.75"/>
<circle cx="571.8" cy="294.2" r="1.75"/>
<line x1="563.1" y1="342.5" x2="580.1" y2="342.5" stroke="#3a3a3a" stroke-width="0.9"/>
<line x1="583" y1="345.5" x2="599.4" y2="345.5" stroke="#3a3a3a" stroke-width="0.9"/>
<line x1="610.6" y1="325.4" x2="630.2" y2="319" stroke="#000" stroke-width="0.95"/>
<line x1="610.6" y1="330.5" x2="630.2" y2="327.1" stroke="#000" stroke-width="0.95"/>
<line x1="610.6" y1="338.1" x2="630.2" y2="327.1" stroke="#000" stroke-width="0.95"/>
<line x1="610.6" y1="339.8" x2="630.2" y2="338.6" stroke="#000" stroke-width="0.95"/>
<line x1="610.6" y1="342" x2="630.2" y2="340.3" stroke="#000" stroke-width="0.95"/>
<line x1="610.6" y1="347.8" x2="630.2" y2="347.5" stroke="#000" stroke-width="0.95"/>
<line x1="610.6" y1="349.7" x2="630.2" y2="351.4" stroke="#000" stroke-width="0.95"/>
<line x1="610.6" y1="347.8" x2="630.2" y2="350" stroke="#000" stroke-width="0.95"/>
<circle cx="610.6" cy="342" r="1.75"/>
<circle cx="630.2" cy="347.5" r="1.75"/>
<circle cx="610.6" cy="339.8" r="1.75"/>
<circle cx="630.2" cy="338.6" r="1.75"/>
<circle cx="610.6" cy="325.4" r="1.75"/>
<circle cx="630.2" cy="350" r="1.75"/>
<circle cx="610.6" cy="347.8" r="1.75"/>
<circle cx="610.6" cy="349.7" r="1.75"/>
<circle cx="630.2" cy="327.1" r="1.75"/>
<circle cx="630.2" cy="340.3" r="1.75"/>
<circle cx="610.6" cy="338.1" r="1.75"/>
<circle cx="630.2" cy="351.4" r="1.75"/>
<circle cx="610.6" cy="330.5" r="1.75"/>
<circle cx="630.2" cy="319" r="1.75"/>
<line x1="603.1" y1="341.5" x2="617.9" y2="341.5" stroke="#3a3a3a" stroke-width="0.9"/>
<line x1="618.7" y1="339.5" x2="638.2" y2="339.5" stroke="#3a3a3a" stroke-width="0.9"/>
<line x1="649.4" y1="335.9" x2="669.1" y2="338.6" stroke="#000" stroke-width="0.95"/>
<line x1="649.4" y1="339.1" x2="669.1" y2="360.4" stroke="#000" stroke-width="0.95"/>
<line x1="649.4" y1="343.9" x2="669.1" y2="355.9" stroke="#000" stroke-width="0.95"/>
<line x1="649.4" y1="345.9" x2="669.1" y2="340" stroke="#000" stroke-width="0.95"/>
<line x1="649.4" y1="348.3" x2="669.1" y2="345.4" stroke="#000" stroke-width="0.95"/>
<line x1="649.4" y1="350.7" x2="669.1" y2="349.3" stroke="#000" stroke-width="0.95"/>
<line x1="649.4" y1="352.2" x2="669.1" y2="349.3" stroke="#000" stroke-width="0.95"/>
<circle cx="649.4" cy="335.9" r="1.75"/>
<circle cx="669.1" cy="338.6" r="1.75"/>
<circle cx="649.4" cy="339.1" r="1.75"/>
<circle cx="669.1" cy="340" r="1.75"/>
<circle cx="649.4" cy="348.3" r="1.75"/>
<circle cx="669.1" cy="355.9" r="1.75"/>
<circle cx="669.1" cy="345.4" r="1.75"/>
<circle cx="649.4" cy="343.9" r="1.75"/>
<circle cx="649.4" cy="350.7" r="1.75"/>
<circle cx="669.1" cy="349.3" r="1.75"/>
<circle cx="669.1" cy="360.4" r="1.75"/>
<circle cx="649.4" cy="345.9" r="1.75"/>
<circle cx="649.4" cy="352.2" r="1.75"/>
<line x1="642.1" y1="345.5" x2="657.7" y2="345.5" stroke="#3a3a3a" stroke-width="0.9"/>
<line x1="658.6" y1="345.5" x2="677.4" y2="345.5" stroke="#3a3a3a" stroke-width="0.9"/>
</svg>
</body></html>
